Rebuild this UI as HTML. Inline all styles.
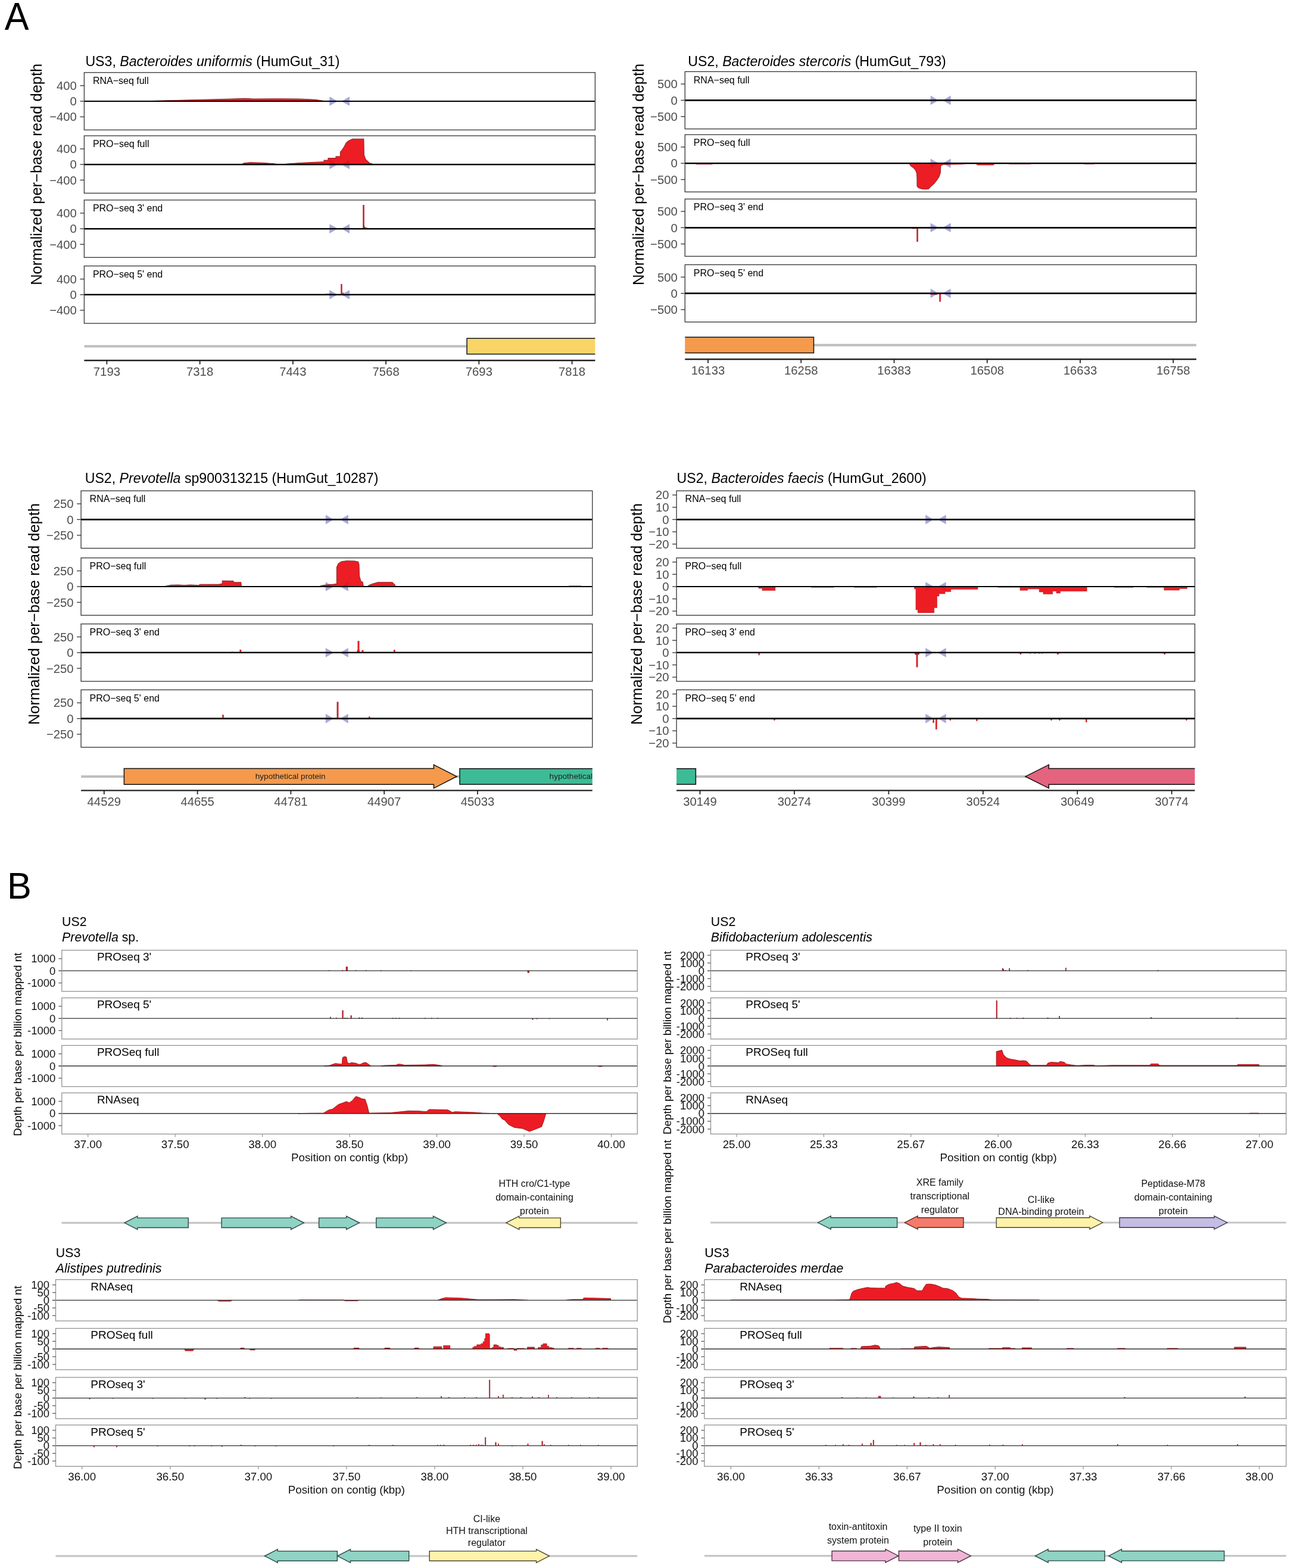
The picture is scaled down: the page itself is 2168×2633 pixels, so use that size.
<!DOCTYPE html>
<html><head><meta charset="utf-8"><title>Figure</title>
<style>html,body{margin:0;padding:0;background:#fff;}svg{display:block;}</style>
</head><body>
<svg width="2168" height="2633" viewBox="0 0 2168 2633" font-family='"Liberation Sans", Arial, Helvetica, sans-serif'>
<rect x="0" y="0" width="2168" height="2633" fill="#ffffff" stroke="none" stroke-width="1"/>
<text transform="translate(7.7,49.5) scale(1,1.048)" font-size="61.2" fill="#000">A</text>
<text transform="translate(12.1,1509) scale(1,1.043)" font-size="61.2" fill="#000">B</text>
<text x="143.4" y="111.1" font-size="23.15" fill="#000">US3, <tspan font-style="italic">Bacteroides uniformis</tspan> (HumGut_31)</text>
<text transform="translate(69.7,292.8) rotate(-90)" font-size="25.5" fill="#000" text-anchor="middle">Normalized per−base read depth</text>
<clipPath id="clipa10"><rect x="141.4" y="121.8" width="858" height="96.4"/></clipPath>
<line x1="141.4" y1="170" x2="999.4" y2="170" stroke="#000" stroke-width="2.2"/>
<polygon points="553.3,162.2 567.1,170 553.3,177.8" fill="#7070bc" stroke="none" stroke-width="1" fill-opacity="0.62"/>
<polygon points="587,162.2 573.2,170 587,177.8" fill="#7070bc" stroke="none" stroke-width="1" fill-opacity="0.62"/>
<g clip-path="url(#clipa10)" opacity="0.9">
<polygon points="241.5,170 241.5,170 280,168.8 330,167.5 380,166.4 412,165.3 425,166.1 470,165.8 500,166 530,167.2 545,169.7 545,170" fill="#eb050d" stroke="#8c1216" stroke-width="1.1"/>
</g>
<line x1="141.4" y1="170" x2="999.4" y2="170" stroke="#000" stroke-width="2.2"/>
<rect x="141.4" y="121.8" width="858" height="96.4" fill="none" stroke="#333333" stroke-width="1.3"/>
<text x="155.9" y="141" font-size="16" fill="#000" text-anchor="start">RNA−seq full</text>
<line x1="134.4" y1="143.8" x2="141.4" y2="143.8" stroke="#333333" stroke-width="1.3"/>
<text x="128.9" y="151" font-size="20.3" fill="#4d4d4d" text-anchor="end">400</text>
<line x1="134.4" y1="170" x2="141.4" y2="170" stroke="#333333" stroke-width="1.3"/>
<text x="128.9" y="177.2" font-size="20.3" fill="#4d4d4d" text-anchor="end">0</text>
<line x1="134.4" y1="196.2" x2="141.4" y2="196.2" stroke="#333333" stroke-width="1.3"/>
<text x="128.9" y="203.4" font-size="20.3" fill="#4d4d4d" text-anchor="end">−400</text>
<clipPath id="clipa11"><rect x="141.4" y="228" width="858" height="96.4"/></clipPath>
<line x1="141.4" y1="276.2" x2="999.4" y2="276.2" stroke="#000" stroke-width="2.2"/>
<polygon points="553.3,268.4 567.1,276.2 553.3,284" fill="#7070bc" stroke="none" stroke-width="1" fill-opacity="0.62"/>
<polygon points="587,268.4 573.2,276.2 587,284" fill="#7070bc" stroke="none" stroke-width="1" fill-opacity="0.62"/>
<g clip-path="url(#clipa11)" opacity="0.9">
<polygon points="405,276.2 405,276.2 410,273.7 420,272.7 440,273.2 460,274.7 466,275.7 480,275.2 500,273.7 520,272.7 540,271.9 544,271.9 544,269.1 551,269.1 551,265.6 564,265.6 564,262.7 571.4,262.7 571.4,255.2 574,252.4 578,246.2 581.5,239.7 585,236.8 591.8,233.3 610.9,233.3 611.4,260.4 614.3,267.9 620.6,273.7 627.6,276 627.6,276.2" fill="#eb050d" stroke="#8c1216" stroke-width="1.1"/>
</g>
<line x1="141.4" y1="276.2" x2="999.4" y2="276.2" stroke="#000" stroke-width="2.2"/>
<rect x="141.4" y="228" width="858" height="96.4" fill="none" stroke="#333333" stroke-width="1.3"/>
<text x="155.9" y="247.2" font-size="16" fill="#000" text-anchor="start">PRO−seq full</text>
<line x1="134.4" y1="250" x2="141.4" y2="250" stroke="#333333" stroke-width="1.3"/>
<text x="128.9" y="257.2" font-size="20.3" fill="#4d4d4d" text-anchor="end">400</text>
<line x1="134.4" y1="276.2" x2="141.4" y2="276.2" stroke="#333333" stroke-width="1.3"/>
<text x="128.9" y="283.4" font-size="20.3" fill="#4d4d4d" text-anchor="end">0</text>
<line x1="134.4" y1="302.4" x2="141.4" y2="302.4" stroke="#333333" stroke-width="1.3"/>
<text x="128.9" y="309.6" font-size="20.3" fill="#4d4d4d" text-anchor="end">−400</text>
<clipPath id="clipa12"><rect x="141.4" y="335.9" width="858" height="96.4"/></clipPath>
<line x1="141.4" y1="384.1" x2="999.4" y2="384.1" stroke="#000" stroke-width="2.2"/>
<polygon points="553.3,376.3 567.1,384.1 553.3,391.9" fill="#7070bc" stroke="none" stroke-width="1" fill-opacity="0.62"/>
<polygon points="587,376.3 573.2,384.1 587,391.9" fill="#7070bc" stroke="none" stroke-width="1" fill-opacity="0.62"/>
<g clip-path="url(#clipa12)" opacity="0.9">
<rect x="609.48" y="344.4" width="2.25" height="39.7" fill="#eb050d" stroke="#8a1216" stroke-width="0.5"/>
<polygon points="610.6,384.1 610.6,384.1 611,378.1 612.5,382.1 616,383.1 622,384.1 622,384.1" fill="#eb050d" stroke="#8c1216" stroke-width="1.1"/>
</g>
<line x1="141.4" y1="384.1" x2="999.4" y2="384.1" stroke="#000" stroke-width="2.2"/>
<rect x="141.4" y="335.9" width="858" height="96.4" fill="none" stroke="#333333" stroke-width="1.3"/>
<text x="155.9" y="355.1" font-size="16" fill="#000" text-anchor="start">PRO−seq 3' end</text>
<line x1="134.4" y1="357.9" x2="141.4" y2="357.9" stroke="#333333" stroke-width="1.3"/>
<text x="128.9" y="365.1" font-size="20.3" fill="#4d4d4d" text-anchor="end">400</text>
<line x1="134.4" y1="384.1" x2="141.4" y2="384.1" stroke="#333333" stroke-width="1.3"/>
<text x="128.9" y="391.3" font-size="20.3" fill="#4d4d4d" text-anchor="end">0</text>
<line x1="134.4" y1="410.3" x2="141.4" y2="410.3" stroke="#333333" stroke-width="1.3"/>
<text x="128.9" y="417.5" font-size="20.3" fill="#4d4d4d" text-anchor="end">−400</text>
<clipPath id="clipa13"><rect x="141.4" y="446.6" width="858" height="96.4"/></clipPath>
<line x1="141.4" y1="494.8" x2="999.4" y2="494.8" stroke="#000" stroke-width="2.2"/>
<polygon points="553.3,487 567.1,494.8 553.3,502.6" fill="#7070bc" stroke="none" stroke-width="1" fill-opacity="0.62"/>
<polygon points="587,487 573.2,494.8 587,502.6" fill="#7070bc" stroke="none" stroke-width="1" fill-opacity="0.62"/>
<g clip-path="url(#clipa13)" opacity="0.9">
<rect x="572.5" y="477.2" width="2" height="17.6" fill="#eb050d" stroke="#8a1216" stroke-width="0.5"/>
<polygon points="545,494.8 545,494.8 548,493.8 556,493.6 560,494.5 560,494.8" fill="#eb050d" stroke="#8c1216" stroke-width="1.1"/>
<rect x="575.12" y="491.8" width="1.75" height="3" fill="#eb050d" stroke="#8a1216" stroke-width="0.5"/>
</g>
<line x1="141.4" y1="494.8" x2="999.4" y2="494.8" stroke="#000" stroke-width="2.2"/>
<rect x="141.4" y="446.6" width="858" height="96.4" fill="none" stroke="#333333" stroke-width="1.3"/>
<text x="155.9" y="465.8" font-size="16" fill="#000" text-anchor="start">PRO−seq 5' end</text>
<line x1="134.4" y1="468.6" x2="141.4" y2="468.6" stroke="#333333" stroke-width="1.3"/>
<text x="128.9" y="475.8" font-size="20.3" fill="#4d4d4d" text-anchor="end">400</text>
<line x1="134.4" y1="494.8" x2="141.4" y2="494.8" stroke="#333333" stroke-width="1.3"/>
<text x="128.9" y="502" font-size="20.3" fill="#4d4d4d" text-anchor="end">0</text>
<line x1="134.4" y1="521" x2="141.4" y2="521" stroke="#333333" stroke-width="1.3"/>
<text x="128.9" y="528.2" font-size="20.3" fill="#4d4d4d" text-anchor="end">−400</text>
<clipPath id="gclipa1"><rect x="141.4" y="556.4" width="858" height="50"/></clipPath>
<g clip-path="url(#gclipa1)">
<line x1="141.4" y1="581.4" x2="999.4" y2="581.4" stroke="#bebebe" stroke-width="4"/>
<rect x="784.1" y="568.2" width="227.9" height="26.4" fill="#f9d567" stroke="#111" stroke-width="1.5"/>
</g>
<line x1="141.4" y1="605.3" x2="999.4" y2="605.3" stroke="#222" stroke-width="2.4"/>
<line x1="179.4" y1="605.3" x2="179.4" y2="611.8" stroke="#222" stroke-width="1.8"/>
<text x="179.4" y="631.3" font-size="20.3" fill="#4d4d4d" text-anchor="middle">7193</text>
<line x1="335.64" y1="605.3" x2="335.64" y2="611.8" stroke="#222" stroke-width="1.8"/>
<text x="335.64" y="631.3" font-size="20.3" fill="#4d4d4d" text-anchor="middle">7318</text>
<line x1="491.88" y1="605.3" x2="491.88" y2="611.8" stroke="#222" stroke-width="1.8"/>
<text x="491.88" y="631.3" font-size="20.3" fill="#4d4d4d" text-anchor="middle">7443</text>
<line x1="648.12" y1="605.3" x2="648.12" y2="611.8" stroke="#222" stroke-width="1.8"/>
<text x="648.12" y="631.3" font-size="20.3" fill="#4d4d4d" text-anchor="middle">7568</text>
<line x1="804.36" y1="605.3" x2="804.36" y2="611.8" stroke="#222" stroke-width="1.8"/>
<text x="804.36" y="631.3" font-size="20.3" fill="#4d4d4d" text-anchor="middle">7693</text>
<line x1="960.6" y1="605.3" x2="960.6" y2="611.8" stroke="#222" stroke-width="1.8"/>
<text x="960.6" y="631.3" font-size="20.3" fill="#4d4d4d" text-anchor="middle">7818</text>
<text x="1155.3" y="110.6" font-size="23.15" fill="#000">US2, <tspan font-style="italic">Bacteroides stercoris</tspan> (HumGut_793)</text>
<text transform="translate(1081.3,292.9) rotate(-90)" font-size="25.5" fill="#000" text-anchor="middle">Normalized per−base read depth</text>
<clipPath id="clipa20"><rect x="1150.3" y="120.3" width="858.7" height="96.2"/></clipPath>
<line x1="1150.3" y1="168.4" x2="2009" y2="168.4" stroke="#000" stroke-width="2.2"/>
<polygon points="1562.6,160.6 1576.4,168.4 1562.6,176.2" fill="#7070bc" stroke="none" stroke-width="1" fill-opacity="0.62"/>
<polygon points="1596.6,160.6 1582.8,168.4 1596.6,176.2" fill="#7070bc" stroke="none" stroke-width="1" fill-opacity="0.62"/>
<g clip-path="url(#clipa20)" opacity="0.9">
</g>
<line x1="1150.3" y1="168.4" x2="2009" y2="168.4" stroke="#000" stroke-width="2.2"/>
<rect x="1150.3" y="120.3" width="858.7" height="96.2" fill="none" stroke="#333333" stroke-width="1.3"/>
<text x="1164.8" y="139.5" font-size="16" fill="#000" text-anchor="start">RNA−seq full</text>
<line x1="1143.3" y1="141.1" x2="1150.3" y2="141.1" stroke="#333333" stroke-width="1.3"/>
<text x="1137.8" y="148.3" font-size="20.3" fill="#4d4d4d" text-anchor="end">500</text>
<line x1="1143.3" y1="168.4" x2="1150.3" y2="168.4" stroke="#333333" stroke-width="1.3"/>
<text x="1137.8" y="175.6" font-size="20.3" fill="#4d4d4d" text-anchor="end">0</text>
<line x1="1143.3" y1="195.7" x2="1150.3" y2="195.7" stroke="#333333" stroke-width="1.3"/>
<text x="1137.8" y="202.9" font-size="20.3" fill="#4d4d4d" text-anchor="end">−500</text>
<clipPath id="clipa21"><rect x="1150.3" y="226.1" width="858.7" height="96.2"/></clipPath>
<line x1="1150.3" y1="274.2" x2="2009" y2="274.2" stroke="#000" stroke-width="2.2"/>
<polygon points="1562.6,266.4 1576.4,274.2 1562.6,282" fill="#7070bc" stroke="none" stroke-width="1" fill-opacity="0.62"/>
<polygon points="1596.6,266.4 1582.8,274.2 1596.6,282" fill="#7070bc" stroke="none" stroke-width="1" fill-opacity="0.62"/>
<g clip-path="url(#clipa21)" opacity="0.9">
<polygon points="1167,274.2 1167,274.2 1170,275.7 1195,275.7 1198,274.2 1198,274.2" fill="#eb050d" stroke="#8c1216" stroke-width="1.1"/>
<polygon points="1527.2,274.2 1527.2,274.2 1527.2,275 1529.5,278.7 1534,281.7 1537.7,286.2 1539.6,291.5 1540,301.2 1540,312.4 1542.2,315.4 1547.4,317.3 1554.9,317.8 1559.4,317.3 1562.4,313.9 1568.4,308.7 1573.7,301.9 1577.4,295.9 1579.3,290 1579.6,282.5 1580,278 1584.9,276.1 1614.8,275.7 1622.3,274.7 1623,274.2 1623,274.2" fill="#eb050d" stroke="#8c1216" stroke-width="1.1"/>
<polygon points="1638,274.2 1638,274.2 1642,277 1668,277 1671,274.2 1671,274.2" fill="#eb050d" stroke="#8c1216" stroke-width="1.1"/>
<polygon points="1693,274.2 1693,274.2 1696,275.5 1730,275.5 1732,274.2 1732,274.2" fill="#eb050d" stroke="#8c1216" stroke-width="1.1"/>
<polygon points="1819,274.2 1819,274.2 1822,275.5 1836,275.5 1839,274.2 1839,274.2" fill="#eb050d" stroke="#8c1216" stroke-width="1.1"/>
</g>
<line x1="1150.3" y1="274.2" x2="2009" y2="274.2" stroke="#000" stroke-width="2.2"/>
<rect x="1150.3" y="226.1" width="858.7" height="96.2" fill="none" stroke="#333333" stroke-width="1.3"/>
<text x="1164.8" y="245.3" font-size="16" fill="#000" text-anchor="start">PRO−seq full</text>
<line x1="1143.3" y1="246.9" x2="1150.3" y2="246.9" stroke="#333333" stroke-width="1.3"/>
<text x="1137.8" y="254.1" font-size="20.3" fill="#4d4d4d" text-anchor="end">500</text>
<line x1="1143.3" y1="274.2" x2="1150.3" y2="274.2" stroke="#333333" stroke-width="1.3"/>
<text x="1137.8" y="281.4" font-size="20.3" fill="#4d4d4d" text-anchor="end">0</text>
<line x1="1143.3" y1="301.5" x2="1150.3" y2="301.5" stroke="#333333" stroke-width="1.3"/>
<text x="1137.8" y="308.7" font-size="20.3" fill="#4d4d4d" text-anchor="end">−500</text>
<clipPath id="clipa22"><rect x="1150.3" y="334.2" width="858.7" height="96.2"/></clipPath>
<line x1="1150.3" y1="382.3" x2="2009" y2="382.3" stroke="#000" stroke-width="2.2"/>
<polygon points="1562.6,374.5 1576.4,382.3 1562.6,390.1" fill="#7070bc" stroke="none" stroke-width="1" fill-opacity="0.62"/>
<polygon points="1596.6,374.5 1582.8,382.3 1596.6,390.1" fill="#7070bc" stroke="none" stroke-width="1" fill-opacity="0.62"/>
<g clip-path="url(#clipa22)" opacity="0.9">
<rect x="1539.47" y="382.3" width="2.25" height="23.5" fill="#eb050d" stroke="#8a1216" stroke-width="0.5"/>
<polygon points="1530,382.3 1530,382.3 1532,383.8 1538,383.8 1539,382.3 1539,382.3" fill="#eb050d" stroke="#8c1216" stroke-width="1.1"/>
</g>
<line x1="1150.3" y1="382.3" x2="2009" y2="382.3" stroke="#000" stroke-width="2.2"/>
<rect x="1150.3" y="334.2" width="858.7" height="96.2" fill="none" stroke="#333333" stroke-width="1.3"/>
<text x="1164.8" y="353.4" font-size="16" fill="#000" text-anchor="start">PRO−seq 3' end</text>
<line x1="1143.3" y1="355" x2="1150.3" y2="355" stroke="#333333" stroke-width="1.3"/>
<text x="1137.8" y="362.2" font-size="20.3" fill="#4d4d4d" text-anchor="end">500</text>
<line x1="1143.3" y1="382.3" x2="1150.3" y2="382.3" stroke="#333333" stroke-width="1.3"/>
<text x="1137.8" y="389.5" font-size="20.3" fill="#4d4d4d" text-anchor="end">0</text>
<line x1="1143.3" y1="409.6" x2="1150.3" y2="409.6" stroke="#333333" stroke-width="1.3"/>
<text x="1137.8" y="416.8" font-size="20.3" fill="#4d4d4d" text-anchor="end">−500</text>
<clipPath id="clipa23"><rect x="1150.3" y="444.5" width="858.7" height="96.2"/></clipPath>
<line x1="1150.3" y1="492.6" x2="2009" y2="492.6" stroke="#000" stroke-width="2.2"/>
<polygon points="1562.6,484.8 1576.4,492.6 1562.6,500.4" fill="#7070bc" stroke="none" stroke-width="1" fill-opacity="0.62"/>
<polygon points="1596.6,484.8 1582.8,492.6 1596.6,500.4" fill="#7070bc" stroke="none" stroke-width="1" fill-opacity="0.62"/>
<g clip-path="url(#clipa23)" opacity="0.9">
<rect x="1577.58" y="492.6" width="2.25" height="13.6" fill="#eb050d" stroke="#8a1216" stroke-width="0.5"/>
<polygon points="1560,492.6 1560,492.6 1563,494.1 1574,494.1 1576,492.6 1576,492.6" fill="#eb050d" stroke="#8c1216" stroke-width="1.1"/>
<rect x="1668.12" y="492.6" width="1.75" height="1.2" fill="#eb050d" stroke="#8a1216" stroke-width="0.5"/>
</g>
<line x1="1150.3" y1="492.6" x2="2009" y2="492.6" stroke="#000" stroke-width="2.2"/>
<rect x="1150.3" y="444.5" width="858.7" height="96.2" fill="none" stroke="#333333" stroke-width="1.3"/>
<text x="1164.8" y="463.7" font-size="16" fill="#000" text-anchor="start">PRO−seq 5' end</text>
<line x1="1143.3" y1="465.3" x2="1150.3" y2="465.3" stroke="#333333" stroke-width="1.3"/>
<text x="1137.8" y="472.5" font-size="20.3" fill="#4d4d4d" text-anchor="end">500</text>
<line x1="1143.3" y1="492.6" x2="1150.3" y2="492.6" stroke="#333333" stroke-width="1.3"/>
<text x="1137.8" y="499.8" font-size="20.3" fill="#4d4d4d" text-anchor="end">0</text>
<line x1="1143.3" y1="519.9" x2="1150.3" y2="519.9" stroke="#333333" stroke-width="1.3"/>
<text x="1137.8" y="527.1" font-size="20.3" fill="#4d4d4d" text-anchor="end">−500</text>
<clipPath id="gclipa2"><rect x="1150.3" y="554.4" width="858.7" height="50"/></clipPath>
<g clip-path="url(#gclipa2)">
<line x1="1150.3" y1="579.4" x2="2009" y2="579.4" stroke="#bebebe" stroke-width="4"/>
<rect x="1140" y="566.2" width="226.5" height="26.4" fill="#f59a4c" stroke="#111" stroke-width="1.5"/>
</g>
<line x1="1150.3" y1="603.2" x2="2009" y2="603.2" stroke="#222" stroke-width="2.4"/>
<line x1="1189" y1="603.2" x2="1189" y2="609.7" stroke="#222" stroke-width="1.8"/>
<text x="1189" y="629.2" font-size="20.3" fill="#4d4d4d" text-anchor="middle">16133</text>
<line x1="1345.25" y1="603.2" x2="1345.25" y2="609.7" stroke="#222" stroke-width="1.8"/>
<text x="1345.25" y="629.2" font-size="20.3" fill="#4d4d4d" text-anchor="middle">16258</text>
<line x1="1501.5" y1="603.2" x2="1501.5" y2="609.7" stroke="#222" stroke-width="1.8"/>
<text x="1501.5" y="629.2" font-size="20.3" fill="#4d4d4d" text-anchor="middle">16383</text>
<line x1="1657.75" y1="603.2" x2="1657.75" y2="609.7" stroke="#222" stroke-width="1.8"/>
<text x="1657.75" y="629.2" font-size="20.3" fill="#4d4d4d" text-anchor="middle">16508</text>
<line x1="1814" y1="603.2" x2="1814" y2="609.7" stroke="#222" stroke-width="1.8"/>
<text x="1814" y="629.2" font-size="20.3" fill="#4d4d4d" text-anchor="middle">16633</text>
<line x1="1970.25" y1="603.2" x2="1970.25" y2="609.7" stroke="#222" stroke-width="1.8"/>
<text x="1970.25" y="629.2" font-size="20.3" fill="#4d4d4d" text-anchor="middle">16758</text>
<text x="142.7" y="811" font-size="23.15" fill="#000">US2, <tspan font-style="italic">Prevotella</tspan> sp900313215 (HumGut_10287)</text>
<text transform="translate(66,1031) rotate(-90)" font-size="25.5" fill="#000" text-anchor="middle">Normalized per−base read depth</text>
<clipPath id="clipa30"><rect x="136.1" y="824.2" width="858.7" height="96.4"/></clipPath>
<line x1="136.1" y1="872.4" x2="994.8" y2="872.4" stroke="#000" stroke-width="2.2"/>
<polygon points="546.8,864.6 560.6,872.4 546.8,880.2" fill="#7070bc" stroke="none" stroke-width="1" fill-opacity="0.62"/>
<polygon points="584.8,864.6 571,872.4 584.8,880.2" fill="#7070bc" stroke="none" stroke-width="1" fill-opacity="0.62"/>
<g clip-path="url(#clipa30)" opacity="0.9">
</g>
<line x1="136.1" y1="872.4" x2="994.8" y2="872.4" stroke="#000" stroke-width="2.2"/>
<rect x="136.1" y="824.2" width="858.7" height="96.4" fill="none" stroke="#333333" stroke-width="1.3"/>
<text x="150.6" y="843.4" font-size="16" fill="#000" text-anchor="start">RNA−seq full</text>
<line x1="129.1" y1="846" x2="136.1" y2="846" stroke="#333333" stroke-width="1.3"/>
<text x="123.6" y="853.2" font-size="20.3" fill="#4d4d4d" text-anchor="end">250</text>
<line x1="129.1" y1="872.4" x2="136.1" y2="872.4" stroke="#333333" stroke-width="1.3"/>
<text x="123.6" y="879.6" font-size="20.3" fill="#4d4d4d" text-anchor="end">0</text>
<line x1="129.1" y1="898.8" x2="136.1" y2="898.8" stroke="#333333" stroke-width="1.3"/>
<text x="123.6" y="906" font-size="20.3" fill="#4d4d4d" text-anchor="end">−250</text>
<clipPath id="clipa31"><rect x="136.1" y="936.8" width="858.7" height="96.4"/></clipPath>
<line x1="136.1" y1="985" x2="994.8" y2="985" stroke="#000" stroke-width="2.2"/>
<polygon points="546.8,977.2 560.6,985 546.8,992.8" fill="#7070bc" stroke="none" stroke-width="1" fill-opacity="0.62"/>
<polygon points="584.8,977.2 571,985 584.8,992.8" fill="#7070bc" stroke="none" stroke-width="1" fill-opacity="0.62"/>
<g clip-path="url(#clipa31)" opacity="0.9">
<polygon points="276,985 276,985 279,984 287.6,982.3 299.6,982 309.8,982.7 319,982.1 334,982.8 335.6,981.3 367.8,981.1 373,980.4 373.3,975.3 391.8,975.6 392.6,977.9 404.7,977.9 405.5,985 405.5,985" fill="#eb050d" stroke="#8c1216" stroke-width="1.1"/>
<polygon points="536,985 536,985 539.5,983.3 546.4,982.4 560.2,981.1 565.4,980.2 565.4,952.6 568,946.5 573.2,943.1 581.9,941.8 595.7,942 601.7,943.5 603,948.3 603.5,967.3 606.1,975.9 609.1,977.7 610.4,984.6 611,985 611,985" fill="#eb050d" stroke="#8c1216" stroke-width="1.1"/>
<polygon points="617,985 617,985 619.9,982.4 625.9,980.2 634.6,977.7 658.8,977.7 663.1,982 664,985 664,985" fill="#eb050d" stroke="#8c1216" stroke-width="1.1"/>
<polygon points="954,985 954,985 956,984 975,984 977,985 977,985" fill="#eb050d" stroke="#8c1216" stroke-width="1.1"/>
</g>
<line x1="136.1" y1="985" x2="994.8" y2="985" stroke="#000" stroke-width="2.2"/>
<rect x="136.1" y="936.8" width="858.7" height="96.4" fill="none" stroke="#333333" stroke-width="1.3"/>
<text x="150.6" y="956" font-size="16" fill="#000" text-anchor="start">PRO−seq full</text>
<line x1="129.1" y1="958.6" x2="136.1" y2="958.6" stroke="#333333" stroke-width="1.3"/>
<text x="123.6" y="965.8" font-size="20.3" fill="#4d4d4d" text-anchor="end">250</text>
<line x1="129.1" y1="985" x2="136.1" y2="985" stroke="#333333" stroke-width="1.3"/>
<text x="123.6" y="992.2" font-size="20.3" fill="#4d4d4d" text-anchor="end">0</text>
<line x1="129.1" y1="1011.4" x2="136.1" y2="1011.4" stroke="#333333" stroke-width="1.3"/>
<text x="123.6" y="1018.6" font-size="20.3" fill="#4d4d4d" text-anchor="end">−250</text>
<clipPath id="clipa32"><rect x="136.1" y="1047.7" width="858.7" height="96.4"/></clipPath>
<line x1="136.1" y1="1095.9" x2="994.8" y2="1095.9" stroke="#000" stroke-width="2.2"/>
<polygon points="546.8,1088.1 560.6,1095.9 546.8,1103.7" fill="#7070bc" stroke="none" stroke-width="1" fill-opacity="0.62"/>
<polygon points="584.8,1088.1 571,1095.9 584.8,1103.7" fill="#7070bc" stroke="none" stroke-width="1" fill-opacity="0.62"/>
<g clip-path="url(#clipa32)" opacity="0.9">
<rect x="389.12" y="1094.7" width="1.75" height="1.2" fill="#eb050d" stroke="#8a1216" stroke-width="0.5"/>
<rect x="402.77" y="1091.1" width="2.25" height="4.8" fill="#eb050d" stroke="#8a1216" stroke-width="0.5"/>
<polygon points="599.5,1095.9 599.5,1095.9 600.5,1091.9 603,1091.9 604,1095.9 604,1095.9" fill="#eb050d" stroke="#8c1216" stroke-width="1.1"/>
<rect x="600.88" y="1076.6" width="2.25" height="19.3" fill="#eb050d" stroke="#8a1216" stroke-width="0.5"/>
<rect x="607.88" y="1091.9" width="2.25" height="4" fill="#eb050d" stroke="#8a1216" stroke-width="0.5"/>
<rect x="661.17" y="1091.4" width="2.25" height="4.5" fill="#eb050d" stroke="#8a1216" stroke-width="0.5"/>
</g>
<line x1="136.1" y1="1095.9" x2="994.8" y2="1095.9" stroke="#000" stroke-width="2.2"/>
<rect x="136.1" y="1047.7" width="858.7" height="96.4" fill="none" stroke="#333333" stroke-width="1.3"/>
<text x="150.6" y="1066.9" font-size="16" fill="#000" text-anchor="start">PRO−seq 3' end</text>
<line x1="129.1" y1="1069.5" x2="136.1" y2="1069.5" stroke="#333333" stroke-width="1.3"/>
<text x="123.6" y="1076.7" font-size="20.3" fill="#4d4d4d" text-anchor="end">250</text>
<line x1="129.1" y1="1095.9" x2="136.1" y2="1095.9" stroke="#333333" stroke-width="1.3"/>
<text x="123.6" y="1103.1" font-size="20.3" fill="#4d4d4d" text-anchor="end">0</text>
<line x1="129.1" y1="1122.3" x2="136.1" y2="1122.3" stroke="#333333" stroke-width="1.3"/>
<text x="123.6" y="1129.5" font-size="20.3" fill="#4d4d4d" text-anchor="end">−250</text>
<clipPath id="clipa33"><rect x="136.1" y="1158.4" width="858.7" height="96.4"/></clipPath>
<line x1="136.1" y1="1206.6" x2="994.8" y2="1206.6" stroke="#000" stroke-width="2.2"/>
<polygon points="546.8,1198.8 560.6,1206.6 546.8,1214.4" fill="#7070bc" stroke="none" stroke-width="1" fill-opacity="0.62"/>
<polygon points="584.8,1198.8 571,1206.6 584.8,1214.4" fill="#7070bc" stroke="none" stroke-width="1" fill-opacity="0.62"/>
<g clip-path="url(#clipa33)" opacity="0.9">
<rect x="373.38" y="1200.4" width="2.25" height="6.2" fill="#eb050d" stroke="#8a1216" stroke-width="0.5"/>
<rect x="539.12" y="1205.6" width="1.75" height="1" fill="#eb050d" stroke="#8a1216" stroke-width="0.5"/>
<rect x="565.88" y="1178.8" width="2.25" height="27.8" fill="#eb050d" stroke="#8a1216" stroke-width="0.5"/>
<rect x="619.17" y="1203.6" width="2.25" height="3" fill="#eb050d" stroke="#8a1216" stroke-width="0.5"/>
<rect x="627.12" y="1205.4" width="1.75" height="1.2" fill="#eb050d" stroke="#8a1216" stroke-width="0.5"/>
</g>
<line x1="136.1" y1="1206.6" x2="994.8" y2="1206.6" stroke="#000" stroke-width="2.2"/>
<rect x="136.1" y="1158.4" width="858.7" height="96.4" fill="none" stroke="#333333" stroke-width="1.3"/>
<text x="150.6" y="1177.6" font-size="16" fill="#000" text-anchor="start">PRO−seq 5' end</text>
<line x1="129.1" y1="1180.2" x2="136.1" y2="1180.2" stroke="#333333" stroke-width="1.3"/>
<text x="123.6" y="1187.4" font-size="20.3" fill="#4d4d4d" text-anchor="end">250</text>
<line x1="129.1" y1="1206.6" x2="136.1" y2="1206.6" stroke="#333333" stroke-width="1.3"/>
<text x="123.6" y="1213.8" font-size="20.3" fill="#4d4d4d" text-anchor="end">0</text>
<line x1="129.1" y1="1233" x2="136.1" y2="1233" stroke="#333333" stroke-width="1.3"/>
<text x="123.6" y="1240.2" font-size="20.3" fill="#4d4d4d" text-anchor="end">−250</text>
<clipPath id="gclipa3"><rect x="136.1" y="1278.9" width="858.7" height="50"/></clipPath>
<g clip-path="url(#gclipa3)">
<line x1="136.1" y1="1303.9" x2="994.8" y2="1303.9" stroke="#bebebe" stroke-width="4"/>
<polygon points="208.4,1290.5 728.4,1290.5 728.4,1284.2 767,1303.9 728.4,1323.6 728.4,1317.3 208.4,1317.3" fill="#f59a4c" stroke="#111" stroke-width="1.5"/>
<text x="487.7" y="1308.2" font-size="13.6" fill="#222" text-anchor="middle">hypothetical protein</text>
<rect x="772" y="1290.7" width="238" height="26.4" fill="#3dbb96" stroke="#111" stroke-width="1.5"/>
<text x="922.6" y="1308.2" font-size="13.6" fill="#222" text-anchor="start">hypothetical protein</text>
</g>
<line x1="136.1" y1="1327.4" x2="994.8" y2="1327.4" stroke="#222" stroke-width="2.4"/>
<line x1="174.8" y1="1327.4" x2="174.8" y2="1333.9" stroke="#222" stroke-width="1.8"/>
<text x="174.8" y="1353.4" font-size="20.3" fill="#4d4d4d" text-anchor="middle">44529</text>
<line x1="331.6" y1="1327.4" x2="331.6" y2="1333.9" stroke="#222" stroke-width="1.8"/>
<text x="331.6" y="1353.4" font-size="20.3" fill="#4d4d4d" text-anchor="middle">44655</text>
<line x1="488.4" y1="1327.4" x2="488.4" y2="1333.9" stroke="#222" stroke-width="1.8"/>
<text x="488.4" y="1353.4" font-size="20.3" fill="#4d4d4d" text-anchor="middle">44781</text>
<line x1="645.2" y1="1327.4" x2="645.2" y2="1333.9" stroke="#222" stroke-width="1.8"/>
<text x="645.2" y="1353.4" font-size="20.3" fill="#4d4d4d" text-anchor="middle">44907</text>
<line x1="802" y1="1327.4" x2="802" y2="1333.9" stroke="#222" stroke-width="1.8"/>
<text x="802" y="1353.4" font-size="20.3" fill="#4d4d4d" text-anchor="middle">45033</text>
<text x="1136.5" y="811" font-size="23.15" fill="#000">US2, <tspan font-style="italic">Bacteroides faecis</tspan> (HumGut_2600)</text>
<text transform="translate(1078,1031) rotate(-90)" font-size="25.5" fill="#000" text-anchor="middle">Normalized per−base read depth</text>
<clipPath id="clipa40"><rect x="1136.1" y="824.2" width="870.4" height="96.4"/></clipPath>
<line x1="1136.1" y1="872.4" x2="2006.5" y2="872.4" stroke="#000" stroke-width="2.2"/>
<polygon points="1554.2,864.6 1568,872.4 1554.2,880.2" fill="#7070bc" stroke="none" stroke-width="1" fill-opacity="0.62"/>
<polygon points="1588.7,864.6 1574.9,872.4 1588.7,880.2" fill="#7070bc" stroke="none" stroke-width="1" fill-opacity="0.62"/>
<g clip-path="url(#clipa40)" opacity="0.9">
</g>
<line x1="1136.1" y1="872.4" x2="2006.5" y2="872.4" stroke="#000" stroke-width="2.2"/>
<rect x="1136.1" y="824.2" width="870.4" height="96.4" fill="none" stroke="#333333" stroke-width="1.3"/>
<text x="1150.6" y="843.4" font-size="16" fill="#000" text-anchor="start">RNA−seq full</text>
<line x1="1129.1" y1="831.2" x2="1136.1" y2="831.2" stroke="#333333" stroke-width="1.3"/>
<text x="1123.6" y="838.4" font-size="20.3" fill="#4d4d4d" text-anchor="end">20</text>
<line x1="1129.1" y1="851.8" x2="1136.1" y2="851.8" stroke="#333333" stroke-width="1.3"/>
<text x="1123.6" y="859" font-size="20.3" fill="#4d4d4d" text-anchor="end">10</text>
<line x1="1129.1" y1="872.4" x2="1136.1" y2="872.4" stroke="#333333" stroke-width="1.3"/>
<text x="1123.6" y="879.6" font-size="20.3" fill="#4d4d4d" text-anchor="end">0</text>
<line x1="1129.1" y1="893" x2="1136.1" y2="893" stroke="#333333" stroke-width="1.3"/>
<text x="1123.6" y="900.2" font-size="20.3" fill="#4d4d4d" text-anchor="end">−10</text>
<line x1="1129.1" y1="913.6" x2="1136.1" y2="913.6" stroke="#333333" stroke-width="1.3"/>
<text x="1123.6" y="920.8" font-size="20.3" fill="#4d4d4d" text-anchor="end">−20</text>
<clipPath id="clipa41"><rect x="1136.1" y="936.8" width="870.4" height="96.4"/></clipPath>
<line x1="1136.1" y1="985" x2="2006.5" y2="985" stroke="#000" stroke-width="2.2"/>
<polygon points="1554.2,977.2 1568,985 1554.2,992.8" fill="#7070bc" stroke="none" stroke-width="1" fill-opacity="0.62"/>
<polygon points="1588.7,977.2 1574.9,985 1588.7,992.8" fill="#7070bc" stroke="none" stroke-width="1" fill-opacity="0.62"/>
<g clip-path="url(#clipa41)" opacity="0.9">
<polygon points="1273.9,985 1273.9,988 1280,988 1280,991.5 1301.9,991.5 1301.9,985" fill="#eb050d" stroke="#8c1216" stroke-width="0.6"/>
<polygon points="1362.6,985 1362.6,986.3 1399.7,986.3 1399.7,985" fill="#eb050d" stroke="#8c1216" stroke-width="0.6"/>
<polygon points="1435,985 1435,986.3 1472,986.3 1472,985" fill="#eb050d" stroke="#8c1216" stroke-width="0.6"/>
<polygon points="1535.5,985 1535.5,989 1538,989 1538,1024 1541.3,1024 1541.3,1028.9 1568.7,1028.9 1568.7,1020.6 1573.5,1020.6 1573.5,1001 1577,1001 1577,997 1587,997 1587,993.6 1596.8,993.6 1596.8,989.5 1642,989.5 1642,985" fill="#eb050d" stroke="#8c1216" stroke-width="0.6"/>
<polygon points="1675.8,985 1675.8,986.2 1713,986.2 1713,991.3 1725.8,991.3 1725.8,989 1745.2,989 1745.2,994 1752,994 1752,997.6 1767.7,997.6 1767.7,992.7 1774,992.7 1774,996 1780.6,996 1780.6,992.7 1825.2,992.7 1825.2,985" fill="#eb050d" stroke="#8c1216" stroke-width="0.6"/>
<polygon points="1871,985 1871,986.3 1903,986.3 1903,985" fill="#eb050d" stroke="#8c1216" stroke-width="0.6"/>
<polygon points="1925.8,985 1925.8,986.3 1954.8,986.3 1954.8,991 1980.6,991 1980.6,988.5 1993.5,988.5 1993.5,985" fill="#eb050d" stroke="#8c1216" stroke-width="0.6"/>
</g>
<line x1="1136.1" y1="985" x2="2006.5" y2="985" stroke="#000" stroke-width="2.2"/>
<rect x="1136.1" y="936.8" width="870.4" height="96.4" fill="none" stroke="#333333" stroke-width="1.3"/>
<text x="1150.6" y="956" font-size="16" fill="#000" text-anchor="start">PRO−seq full</text>
<line x1="1129.1" y1="943.8" x2="1136.1" y2="943.8" stroke="#333333" stroke-width="1.3"/>
<text x="1123.6" y="951" font-size="20.3" fill="#4d4d4d" text-anchor="end">20</text>
<line x1="1129.1" y1="964.4" x2="1136.1" y2="964.4" stroke="#333333" stroke-width="1.3"/>
<text x="1123.6" y="971.6" font-size="20.3" fill="#4d4d4d" text-anchor="end">10</text>
<line x1="1129.1" y1="985" x2="1136.1" y2="985" stroke="#333333" stroke-width="1.3"/>
<text x="1123.6" y="992.2" font-size="20.3" fill="#4d4d4d" text-anchor="end">0</text>
<line x1="1129.1" y1="1005.6" x2="1136.1" y2="1005.6" stroke="#333333" stroke-width="1.3"/>
<text x="1123.6" y="1012.8" font-size="20.3" fill="#4d4d4d" text-anchor="end">−10</text>
<line x1="1129.1" y1="1026.2" x2="1136.1" y2="1026.2" stroke="#333333" stroke-width="1.3"/>
<text x="1123.6" y="1033.4" font-size="20.3" fill="#4d4d4d" text-anchor="end">−20</text>
<clipPath id="clipa42"><rect x="1136.1" y="1047.7" width="870.4" height="96.4"/></clipPath>
<line x1="1136.1" y1="1095.9" x2="2006.5" y2="1095.9" stroke="#000" stroke-width="2.2"/>
<polygon points="1554.2,1088.1 1568,1095.9 1554.2,1103.7" fill="#7070bc" stroke="none" stroke-width="1" fill-opacity="0.62"/>
<polygon points="1588.7,1088.1 1574.9,1095.9 1588.7,1103.7" fill="#7070bc" stroke="none" stroke-width="1" fill-opacity="0.62"/>
<g clip-path="url(#clipa42)" opacity="0.9">
<rect x="1273.8" y="1095.9" width="2" height="4" fill="#eb050d" stroke="#8a1216" stroke-width="0.5"/>
<rect x="1538.88" y="1095.9" width="2.25" height="24.2" fill="#eb050d" stroke="#8a1216" stroke-width="0.5"/>
<polygon points="1536,1095.9 1536,1095.9 1537,1098.9 1543,1098.9 1544,1095.9 1544,1095.9" fill="#eb050d" stroke="#8c1216" stroke-width="1.1"/>
<rect x="1712.9" y="1095.9" width="2" height="3" fill="#eb050d" stroke="#8a1216" stroke-width="0.5"/>
<rect x="1775.5" y="1095.9" width="2" height="3" fill="#eb050d" stroke="#8a1216" stroke-width="0.5"/>
<rect x="1954.8" y="1095.9" width="2" height="3" fill="#eb050d" stroke="#8a1216" stroke-width="0.5"/>
<rect x="1729.12" y="1095.9" width="1.75" height="1.3" fill="#eb050d" stroke="#8a1216" stroke-width="0.5"/>
<rect x="1737.12" y="1095.9" width="1.75" height="1.3" fill="#eb050d" stroke="#8a1216" stroke-width="0.5"/>
<rect x="1744.12" y="1095.9" width="1.75" height="1.3" fill="#eb050d" stroke="#8a1216" stroke-width="0.5"/>
<rect x="1749.12" y="1095.9" width="1.75" height="1.3" fill="#eb050d" stroke="#8a1216" stroke-width="0.5"/>
</g>
<line x1="1136.1" y1="1095.9" x2="2006.5" y2="1095.9" stroke="#000" stroke-width="2.2"/>
<rect x="1136.1" y="1047.7" width="870.4" height="96.4" fill="none" stroke="#333333" stroke-width="1.3"/>
<text x="1150.6" y="1066.9" font-size="16" fill="#000" text-anchor="start">PRO−seq 3' end</text>
<line x1="1129.1" y1="1054.7" x2="1136.1" y2="1054.7" stroke="#333333" stroke-width="1.3"/>
<text x="1123.6" y="1061.9" font-size="20.3" fill="#4d4d4d" text-anchor="end">20</text>
<line x1="1129.1" y1="1075.3" x2="1136.1" y2="1075.3" stroke="#333333" stroke-width="1.3"/>
<text x="1123.6" y="1082.5" font-size="20.3" fill="#4d4d4d" text-anchor="end">10</text>
<line x1="1129.1" y1="1095.9" x2="1136.1" y2="1095.9" stroke="#333333" stroke-width="1.3"/>
<text x="1123.6" y="1103.1" font-size="20.3" fill="#4d4d4d" text-anchor="end">0</text>
<line x1="1129.1" y1="1116.5" x2="1136.1" y2="1116.5" stroke="#333333" stroke-width="1.3"/>
<text x="1123.6" y="1123.7" font-size="20.3" fill="#4d4d4d" text-anchor="end">−10</text>
<line x1="1129.1" y1="1137.1" x2="1136.1" y2="1137.1" stroke="#333333" stroke-width="1.3"/>
<text x="1123.6" y="1144.3" font-size="20.3" fill="#4d4d4d" text-anchor="end">−20</text>
<clipPath id="clipa43"><rect x="1136.1" y="1158.4" width="870.4" height="96.4"/></clipPath>
<line x1="1136.1" y1="1206.6" x2="2006.5" y2="1206.6" stroke="#000" stroke-width="2.2"/>
<polygon points="1554.2,1198.8 1568,1206.6 1554.2,1214.4" fill="#7070bc" stroke="none" stroke-width="1" fill-opacity="0.62"/>
<polygon points="1588.7,1198.8 1574.9,1206.6 1588.7,1214.4" fill="#7070bc" stroke="none" stroke-width="1" fill-opacity="0.62"/>
<g clip-path="url(#clipa43)" opacity="0.9">
<rect x="1299.6" y="1206.6" width="2" height="3" fill="#eb050d" stroke="#8a1216" stroke-width="0.5"/>
<rect x="1566.7" y="1206.6" width="2" height="7" fill="#eb050d" stroke="#8a1216" stroke-width="0.5"/>
<rect x="1571.17" y="1206.6" width="2.25" height="18" fill="#eb050d" stroke="#8a1216" stroke-width="0.5"/>
<rect x="1594.8" y="1206.6" width="2" height="3" fill="#eb050d" stroke="#8a1216" stroke-width="0.5"/>
<rect x="1639.3" y="1206.6" width="2" height="4" fill="#eb050d" stroke="#8a1216" stroke-width="0.5"/>
<rect x="1764.5" y="1206.6" width="2" height="3" fill="#eb050d" stroke="#8a1216" stroke-width="0.5"/>
<rect x="1778.4" y="1206.6" width="2" height="3" fill="#eb050d" stroke="#8a1216" stroke-width="0.5"/>
<rect x="1823.2" y="1206.6" width="2" height="6" fill="#eb050d" stroke="#8a1216" stroke-width="0.5"/>
<rect x="1991.6" y="1206.6" width="2" height="3" fill="#eb050d" stroke="#8a1216" stroke-width="0.5"/>
</g>
<line x1="1136.1" y1="1206.6" x2="2006.5" y2="1206.6" stroke="#000" stroke-width="2.2"/>
<rect x="1136.1" y="1158.4" width="870.4" height="96.4" fill="none" stroke="#333333" stroke-width="1.3"/>
<text x="1150.6" y="1177.6" font-size="16" fill="#000" text-anchor="start">PRO−seq 5' end</text>
<line x1="1129.1" y1="1165.4" x2="1136.1" y2="1165.4" stroke="#333333" stroke-width="1.3"/>
<text x="1123.6" y="1172.6" font-size="20.3" fill="#4d4d4d" text-anchor="end">20</text>
<line x1="1129.1" y1="1186" x2="1136.1" y2="1186" stroke="#333333" stroke-width="1.3"/>
<text x="1123.6" y="1193.2" font-size="20.3" fill="#4d4d4d" text-anchor="end">10</text>
<line x1="1129.1" y1="1206.6" x2="1136.1" y2="1206.6" stroke="#333333" stroke-width="1.3"/>
<text x="1123.6" y="1213.8" font-size="20.3" fill="#4d4d4d" text-anchor="end">0</text>
<line x1="1129.1" y1="1227.2" x2="1136.1" y2="1227.2" stroke="#333333" stroke-width="1.3"/>
<text x="1123.6" y="1234.4" font-size="20.3" fill="#4d4d4d" text-anchor="end">−10</text>
<line x1="1129.1" y1="1247.8" x2="1136.1" y2="1247.8" stroke="#333333" stroke-width="1.3"/>
<text x="1123.6" y="1255" font-size="20.3" fill="#4d4d4d" text-anchor="end">−20</text>
<clipPath id="gclipa4"><rect x="1136.1" y="1278.9" width="870.4" height="50"/></clipPath>
<g clip-path="url(#gclipa4)">
<line x1="1136.1" y1="1303.9" x2="2006.5" y2="1303.9" stroke="#bebebe" stroke-width="4"/>
<rect x="1120" y="1290.7" width="48.4" height="26.4" fill="#3dbb96" stroke="#111" stroke-width="1.5"/>
<polygon points="2020,1290.5 1761.3,1290.5 1761.3,1284.2 1722,1303.9 1761.3,1323.6 1761.3,1317.3 2020,1317.3" fill="#e4637f" stroke="#111" stroke-width="1.5"/>
</g>
<line x1="1136.1" y1="1327.4" x2="2006.5" y2="1327.4" stroke="#222" stroke-width="2.4"/>
<line x1="1175.5" y1="1327.4" x2="1175.5" y2="1333.9" stroke="#222" stroke-width="1.8"/>
<text x="1175.5" y="1353.4" font-size="20.3" fill="#4d4d4d" text-anchor="middle">30149</text>
<line x1="1333.94" y1="1327.4" x2="1333.94" y2="1333.9" stroke="#222" stroke-width="1.8"/>
<text x="1333.94" y="1353.4" font-size="20.3" fill="#4d4d4d" text-anchor="middle">30274</text>
<line x1="1492.38" y1="1327.4" x2="1492.38" y2="1333.9" stroke="#222" stroke-width="1.8"/>
<text x="1492.38" y="1353.4" font-size="20.3" fill="#4d4d4d" text-anchor="middle">30399</text>
<line x1="1650.82" y1="1327.4" x2="1650.82" y2="1333.9" stroke="#222" stroke-width="1.8"/>
<text x="1650.82" y="1353.4" font-size="20.3" fill="#4d4d4d" text-anchor="middle">30524</text>
<line x1="1809.26" y1="1327.4" x2="1809.26" y2="1333.9" stroke="#222" stroke-width="1.8"/>
<text x="1809.26" y="1353.4" font-size="20.3" fill="#4d4d4d" text-anchor="middle">30649</text>
<line x1="1967.7" y1="1327.4" x2="1967.7" y2="1333.9" stroke="#222" stroke-width="1.8"/>
<text x="1967.7" y="1353.4" font-size="20.3" fill="#4d4d4d" text-anchor="middle">30774</text>
<text x="104.1" y="1555.2" font-size="21.3" fill="#000" text-anchor="start">US2</text>
<text x="104.1" y="1580.7" font-size="21.3" fill="#000"><tspan font-style="italic">Prevotella</tspan> sp.</text>
<text transform="translate(36.1,1753.7) rotate(-90)" font-size="18.8" fill="#000" text-anchor="middle">Depth per base per billion mapped nt</text>
<clipPath id="clipb10"><rect x="103.8" y="1595.6" width="966.5" height="69.1"/></clipPath>
<g clip-path="url(#clipb10)">
<polygon points="581.2,1630.15 581.2,1630.15 581.2,1623.65 583.6,1623.65 583.6,1630.15 583.6,1630.15" fill="#ed1c24" stroke="#8c1216" stroke-width="0.9"/>
<rect x="574.6" y="1629.15" width="1.2" height="1" fill="#c8191f" stroke="#8a1216" stroke-width="0.5"/>
<rect x="596.8" y="1629.45" width="1.2" height="0.7" fill="#c8191f" stroke="#8a1216" stroke-width="0.5"/>
<rect x="614.2" y="1629.15" width="1.2" height="1" fill="#c8191f" stroke="#8a1216" stroke-width="0.5"/>
<rect x="552.4" y="1629.55" width="1.2" height="0.6" fill="#c8191f" stroke="#8a1216" stroke-width="0.5"/>
<rect x="639.4" y="1629.65" width="1.2" height="0.5" fill="#c8191f" stroke="#8a1216" stroke-width="0.5"/>
<rect x="689.4" y="1629.75" width="1.2" height="0.4" fill="#c8191f" stroke="#8a1216" stroke-width="0.5"/>
<polygon points="885.8,1630.15 885.8,1630.15 886.3,1633.35 888.3,1633.35 888.8,1630.15 888.8,1630.15" fill="#ed1c24" stroke="#8c1216" stroke-width="0.9"/>
</g>
<line x1="98.3" y1="1630.15" x2="1070.3" y2="1630.15" stroke="#333" stroke-width="1.4"/>
<rect x="103.8" y="1595.6" width="966.5" height="69.1" fill="none" stroke="#939393" stroke-width="1.3"/>
<text x="162.9" y="1613.4" font-size="19" fill="#000" text-anchor="start">PROseq 3'</text>
<line x1="98.3" y1="1609.75" x2="103.8" y2="1609.75" stroke="#555" stroke-width="1.2"/>
<text x="93.4" y="1616.35" font-size="18.5" fill="#111" text-anchor="end">1000</text>
<text x="93.4" y="1636.75" font-size="18.5" fill="#111" text-anchor="end">0</text>
<line x1="98.3" y1="1650.55" x2="103.8" y2="1650.55" stroke="#555" stroke-width="1.2"/>
<text x="93.4" y="1657.15" font-size="18.5" fill="#111" text-anchor="end">-1000</text>
<clipPath id="clipb11"><rect x="103.8" y="1675.6" width="966.5" height="69.1"/></clipPath>
<g clip-path="url(#clipb11)">
<rect x="574.85" y="1696.85" width="1.5" height="13.3" fill="#c8191f" stroke="#8a1216" stroke-width="0.5"/>
<rect x="588.95" y="1705.35" width="1.5" height="4.8" fill="#c8191f" stroke="#8a1216" stroke-width="0.5"/>
<rect x="554.5" y="1707.75" width="1.2" height="2.4" fill="#c8191f" stroke="#8a1216" stroke-width="0.5"/>
<rect x="564.2" y="1708.95" width="1.2" height="1.2" fill="#c8191f" stroke="#8a1216" stroke-width="0.5"/>
<rect x="578.7" y="1709.15" width="1.2" height="1" fill="#c8191f" stroke="#8a1216" stroke-width="0.5"/>
<rect x="582.4" y="1709.15" width="1.2" height="1" fill="#c8191f" stroke="#8a1216" stroke-width="0.5"/>
<rect x="602.9" y="1708.75" width="1.2" height="1.4" fill="#c8191f" stroke="#8a1216" stroke-width="0.5"/>
<rect x="607.7" y="1708.95" width="1.2" height="1.2" fill="#c8191f" stroke="#8a1216" stroke-width="0.5"/>
<rect x="659.4" y="1709.35" width="1.2" height="0.8" fill="#c8191f" stroke="#8a1216" stroke-width="0.5"/>
<rect x="664.4" y="1709.35" width="1.2" height="0.8" fill="#c8191f" stroke="#8a1216" stroke-width="0.5"/>
<rect x="670.4" y="1709.35" width="1.2" height="0.8" fill="#c8191f" stroke="#8a1216" stroke-width="0.5"/>
<rect x="713.4" y="1709.55" width="1.2" height="0.6" fill="#c8191f" stroke="#8a1216" stroke-width="0.5"/>
<rect x="724.4" y="1709.55" width="1.2" height="0.6" fill="#c8191f" stroke="#8a1216" stroke-width="0.5"/>
<rect x="734.4" y="1709.55" width="1.2" height="0.6" fill="#c8191f" stroke="#8a1216" stroke-width="0.5"/>
<rect x="893.9" y="1710.15" width="1.2" height="2.2" fill="#c8191f" stroke="#8a1216" stroke-width="0.5"/>
<rect x="901.2" y="1710.15" width="1.2" height="1" fill="#c8191f" stroke="#8a1216" stroke-width="0.5"/>
<rect x="922.2" y="1710.15" width="1.2" height="0.8" fill="#c8191f" stroke="#8a1216" stroke-width="0.5"/>
<rect x="1019.6" y="1710.15" width="1.2" height="3" fill="#c8191f" stroke="#8a1216" stroke-width="0.5"/>
</g>
<line x1="98.3" y1="1710.15" x2="1070.3" y2="1710.15" stroke="#333" stroke-width="1.4"/>
<rect x="103.8" y="1675.6" width="966.5" height="69.1" fill="none" stroke="#939393" stroke-width="1.3"/>
<text x="162.9" y="1693.4" font-size="19" fill="#000" text-anchor="start">PROseq 5'</text>
<line x1="98.3" y1="1689.75" x2="103.8" y2="1689.75" stroke="#555" stroke-width="1.2"/>
<text x="93.4" y="1696.35" font-size="18.5" fill="#111" text-anchor="end">1000</text>
<text x="93.4" y="1716.75" font-size="18.5" fill="#111" text-anchor="end">0</text>
<line x1="98.3" y1="1730.55" x2="103.8" y2="1730.55" stroke="#555" stroke-width="1.2"/>
<text x="93.4" y="1737.15" font-size="18.5" fill="#111" text-anchor="end">-1000</text>
<clipPath id="clipb12"><rect x="103.8" y="1755.5" width="966.5" height="69.1"/></clipPath>
<g clip-path="url(#clipb12)">
<polygon points="544.2,1790.05 544.2,1790.05 553.9,1789.05 556.3,1788.05 563.5,1785.65 568.4,1786.45 574.4,1786.95 575.2,1776.05 578,1774.35 581.7,1774.85 583.4,1784.45 586.5,1785.65 590.2,1784.45 597.4,1785.25 602.3,1787.35 605.9,1786.95 610.7,1784.45 614.4,1784.05 619.2,1787.35 622.8,1790.05 622.8,1790.05" fill="#ed1c24" stroke="#8c1216" stroke-width="0.9"/>
<polygon points="639.8,1790.05 639.8,1790.05 645.8,1789.05 665.2,1788.55 668,1786.95 672.4,1786.95 679.7,1788.55 713.6,1788.05 728,1787.35 740.2,1789.05 742.6,1790.05 742.6,1790.05" fill="#ed1c24" stroke="#8c1216" stroke-width="0.9"/>
<polygon points="827.3,1790.05 827.3,1790.05 829,1791.05 833,1791.05 834.5,1790.05 834.5,1790.05" fill="#ed1c24" stroke="#8c1216" stroke-width="0.9"/>
<polygon points="1004,1790.05 1004,1790.05 1006,1791.05 1010,1791.05 1012,1790.05 1012,1790.05" fill="#ed1c24" stroke="#8c1216" stroke-width="0.9"/>
</g>
<line x1="98.3" y1="1790.05" x2="1070.3" y2="1790.05" stroke="#333" stroke-width="1.4"/>
<rect x="103.8" y="1755.5" width="966.5" height="69.1" fill="none" stroke="#939393" stroke-width="1.3"/>
<text x="162.9" y="1773.3" font-size="19" fill="#000" text-anchor="start">PROSeq full</text>
<line x1="98.3" y1="1769.65" x2="103.8" y2="1769.65" stroke="#555" stroke-width="1.2"/>
<text x="93.4" y="1776.25" font-size="18.5" fill="#111" text-anchor="end">1000</text>
<text x="93.4" y="1796.65" font-size="18.5" fill="#111" text-anchor="end">0</text>
<line x1="98.3" y1="1810.45" x2="103.8" y2="1810.45" stroke="#555" stroke-width="1.2"/>
<text x="93.4" y="1817.05" font-size="18.5" fill="#111" text-anchor="end">-1000</text>
<clipPath id="clipb13"><rect x="103.8" y="1835.2" width="966.5" height="69.1"/></clipPath>
<g clip-path="url(#clipb13)">
<polygon points="500,1869.75 500,1869.75 520,1869.25 543,1869.15 544.2,1868.55 551.5,1864.15 558.7,1862.25 568.4,1854.55 575.6,1852.05 581.7,1849.65 586.5,1851.65 591.4,1848.45 597.4,1841.15 602.3,1842.45 607.1,1844.85 613.2,1846.05 616.8,1856.95 619.7,1869.05 621.6,1869.05 655.5,1868.55 687,1865.35 703.9,1865.65 716,1866.65 720.8,1862.95 752.3,1863.75 759.5,1867.85 764.4,1866.65 798.2,1868.05 810.3,1869.05 832.1,1869.75 832.1,1869.75" fill="#ed1c24" stroke="#8c1216" stroke-width="0.9"/>
<polygon points="834.5,1869.75 834.5,1869.75 839.4,1873.85 843,1878.65 847.8,1881.15 853.9,1888.35 863.6,1893.25 878.1,1895.15 889,1899.95 897.4,1896.85 909.5,1892.05 913.2,1882.35 916.8,1869.75 916.8,1869.75" fill="#ed1c24" stroke="#8c1216" stroke-width="0.9"/>
</g>
<line x1="98.3" y1="1869.75" x2="1070.3" y2="1869.75" stroke="#333" stroke-width="1.4"/>
<rect x="103.8" y="1835.2" width="966.5" height="69.1" fill="none" stroke="#939393" stroke-width="1.3"/>
<text x="162.9" y="1853" font-size="19" fill="#000" text-anchor="start">RNAseq</text>
<line x1="98.3" y1="1849.35" x2="103.8" y2="1849.35" stroke="#555" stroke-width="1.2"/>
<text x="93.4" y="1855.95" font-size="18.5" fill="#111" text-anchor="end">1000</text>
<text x="93.4" y="1876.35" font-size="18.5" fill="#111" text-anchor="end">0</text>
<line x1="98.3" y1="1890.15" x2="103.8" y2="1890.15" stroke="#555" stroke-width="1.2"/>
<text x="93.4" y="1896.75" font-size="18.5" fill="#111" text-anchor="end">-1000</text>
<line x1="147.7" y1="1904.3" x2="147.7" y2="1909.3" stroke="#888" stroke-width="1.1"/>
<text x="147.7" y="1927.7" font-size="18.7" fill="#111" text-anchor="middle">37.00</text>
<line x1="294.18" y1="1904.3" x2="294.18" y2="1909.3" stroke="#888" stroke-width="1.1"/>
<text x="294.18" y="1927.7" font-size="18.7" fill="#111" text-anchor="middle">37.50</text>
<line x1="440.66" y1="1904.3" x2="440.66" y2="1909.3" stroke="#888" stroke-width="1.1"/>
<text x="440.66" y="1927.7" font-size="18.7" fill="#111" text-anchor="middle">38.00</text>
<line x1="587.14" y1="1904.3" x2="587.14" y2="1909.3" stroke="#888" stroke-width="1.1"/>
<text x="587.14" y="1927.7" font-size="18.7" fill="#111" text-anchor="middle">38.50</text>
<line x1="733.62" y1="1904.3" x2="733.62" y2="1909.3" stroke="#888" stroke-width="1.1"/>
<text x="733.62" y="1927.7" font-size="18.7" fill="#111" text-anchor="middle">39.00</text>
<line x1="880.1" y1="1904.3" x2="880.1" y2="1909.3" stroke="#888" stroke-width="1.1"/>
<text x="880.1" y="1927.7" font-size="18.7" fill="#111" text-anchor="middle">39.50</text>
<line x1="1026.58" y1="1904.3" x2="1026.58" y2="1909.3" stroke="#888" stroke-width="1.1"/>
<text x="1026.58" y="1927.7" font-size="18.7" fill="#111" text-anchor="middle">40.00</text>
<text x="587.05" y="1950.3" font-size="18.8" fill="#111" text-anchor="middle">Position on contig (kbp)</text>
<line x1="103.5" y1="2053.3" x2="1070.6" y2="2053.3" stroke="#c6c6c6" stroke-width="3.2"/>
<polygon points="316.2,2045.1 230.9,2045.1 230.9,2042.1 209.1,2053.3 230.9,2064.5 230.9,2061.5 316.2,2061.5" fill="#8fd3c5" stroke="#2a4744" stroke-width="1.4"/>
<polygon points="372.1,2045.1 488.6,2045.1 488.6,2042.1 510.4,2053.3 488.6,2064.5 488.6,2061.5 372.1,2061.5" fill="#8fd3c5" stroke="#2a4744" stroke-width="1.4"/>
<polygon points="535.6,2045.1 581.6,2045.1 581.6,2042.1 603.4,2053.3 581.6,2064.5 581.6,2061.5 535.6,2061.5" fill="#8fd3c5" stroke="#2a4744" stroke-width="1.4"/>
<polygon points="631.8,2045.1 727.5,2045.1 727.5,2042.1 749.3,2053.3 727.5,2064.5 727.5,2061.5 631.8,2061.5" fill="#8fd3c5" stroke="#2a4744" stroke-width="1.4"/>
<polygon points="941.4,2045.1 871.8,2045.1 871.8,2042.1 850,2053.3 871.8,2064.5 871.8,2061.5 941.4,2061.5" fill="#fff3aa" stroke="#4a4630" stroke-width="1.4"/>
<text x="897.5" y="1993.1" font-size="16" fill="#111" text-anchor="middle">HTH cro/C1-type</text>
<text x="897.5" y="2015.9" font-size="16" fill="#111" text-anchor="middle">domain-containing</text>
<text x="897.5" y="2038.7" font-size="16" fill="#111" text-anchor="middle">protein</text>
<text x="1193.8" y="1555.2" font-size="21.3" fill="#000" text-anchor="start">US2</text>
<text x="1193.8" y="1580.7" font-size="21.3" fill="#000"><tspan font-style="italic">Bifidobacterium adolescentis</tspan></text>
<text transform="translate(1126.6,1751) rotate(-90)" font-size="18.8" fill="#000" text-anchor="middle">Depth per base per billion mapped nt</text>
<text transform="translate(1126.6,2068) rotate(-90)" font-size="18.8" fill="#000" text-anchor="middle">Depth per base per billion mapped nt</text>
<clipPath id="clipb20"><rect x="1193.5" y="1595.6" width="966.4" height="69.1"/></clipPath>
<g clip-path="url(#clipb20)">
<rect x="1683.05" y="1626.15" width="1.3" height="4" fill="#c8191f" stroke="#8a1216" stroke-width="0.5"/>
<rect x="1684.25" y="1627.15" width="1.3" height="3" fill="#c8191f" stroke="#8a1216" stroke-width="0.5"/>
<rect x="1687.85" y="1629.15" width="1.3" height="1" fill="#c8191f" stroke="#8a1216" stroke-width="0.5"/>
<rect x="1694.55" y="1626.15" width="1.3" height="4" fill="#c8191f" stroke="#8a1216" stroke-width="0.5"/>
<rect x="1725.25" y="1629.15" width="1.3" height="1" fill="#c8191f" stroke="#8a1216" stroke-width="0.5"/>
<rect x="1789.35" y="1625.65" width="1.3" height="4.5" fill="#c8191f" stroke="#8a1216" stroke-width="0.5"/>
<rect x="1943.95" y="1629.15" width="1.3" height="1" fill="#c8191f" stroke="#8a1216" stroke-width="0.5"/>
</g>
<line x1="1188" y1="1630.15" x2="2159.9" y2="1630.15" stroke="#333" stroke-width="1.4"/>
<rect x="1193.5" y="1595.6" width="966.4" height="69.1" fill="none" stroke="#939393" stroke-width="1.3"/>
<text x="1252.3" y="1613.4" font-size="19" fill="#000" text-anchor="start">PROseq 3'</text>
<line x1="1188" y1="1603.95" x2="1193.5" y2="1603.95" stroke="#555" stroke-width="1.2"/>
<text x="1183.1" y="1610.55" font-size="18.5" fill="#111" text-anchor="end">2000</text>
<line x1="1188" y1="1617.05" x2="1193.5" y2="1617.05" stroke="#555" stroke-width="1.2"/>
<text x="1183.1" y="1623.65" font-size="18.5" fill="#111" text-anchor="end">1000</text>
<text x="1183.1" y="1636.75" font-size="18.5" fill="#111" text-anchor="end">0</text>
<line x1="1188" y1="1643.25" x2="1193.5" y2="1643.25" stroke="#555" stroke-width="1.2"/>
<text x="1183.1" y="1649.85" font-size="18.5" fill="#111" text-anchor="end">-1000</text>
<line x1="1188" y1="1656.35" x2="1193.5" y2="1656.35" stroke="#555" stroke-width="1.2"/>
<text x="1183.1" y="1662.95" font-size="18.5" fill="#111" text-anchor="end">-2000</text>
<clipPath id="clipb21"><rect x="1193.5" y="1675.6" width="966.4" height="69.1"/></clipPath>
<g clip-path="url(#clipb21)">
<rect x="1673.05" y="1680.15" width="1.5" height="30" fill="#c8191f" stroke="#8a1216" stroke-width="0.5"/>
<rect x="1778.45" y="1706.45" width="1.3" height="3.7" fill="#c8191f" stroke="#8a1216" stroke-width="0.5"/>
<rect x="1758.95" y="1708.95" width="1.3" height="1.2" fill="#c8191f" stroke="#8a1216" stroke-width="0.5"/>
<rect x="1717.75" y="1709.15" width="1.3" height="1" fill="#c8191f" stroke="#8a1216" stroke-width="0.5"/>
<rect x="1696.05" y="1709.55" width="1.3" height="0.6" fill="#c8191f" stroke="#8a1216" stroke-width="0.5"/>
<rect x="1707.35" y="1709.55" width="1.3" height="0.6" fill="#c8191f" stroke="#8a1216" stroke-width="0.5"/>
<rect x="1932.45" y="1708.65" width="1.3" height="1.5" fill="#c8191f" stroke="#8a1216" stroke-width="0.5"/>
<rect x="2077.05" y="1709.65" width="1.3" height="0.5" fill="#c8191f" stroke="#8a1216" stroke-width="0.5"/>
</g>
<line x1="1188" y1="1710.15" x2="2159.9" y2="1710.15" stroke="#333" stroke-width="1.4"/>
<rect x="1193.5" y="1675.6" width="966.4" height="69.1" fill="none" stroke="#939393" stroke-width="1.3"/>
<text x="1252.3" y="1693.4" font-size="19" fill="#000" text-anchor="start">PROseq 5'</text>
<line x1="1188" y1="1683.95" x2="1193.5" y2="1683.95" stroke="#555" stroke-width="1.2"/>
<text x="1183.1" y="1690.55" font-size="18.5" fill="#111" text-anchor="end">2000</text>
<line x1="1188" y1="1697.05" x2="1193.5" y2="1697.05" stroke="#555" stroke-width="1.2"/>
<text x="1183.1" y="1703.65" font-size="18.5" fill="#111" text-anchor="end">1000</text>
<text x="1183.1" y="1716.75" font-size="18.5" fill="#111" text-anchor="end">0</text>
<line x1="1188" y1="1723.25" x2="1193.5" y2="1723.25" stroke="#555" stroke-width="1.2"/>
<text x="1183.1" y="1729.85" font-size="18.5" fill="#111" text-anchor="end">-1000</text>
<line x1="1188" y1="1736.35" x2="1193.5" y2="1736.35" stroke="#555" stroke-width="1.2"/>
<text x="1183.1" y="1742.95" font-size="18.5" fill="#111" text-anchor="end">-2000</text>
<clipPath id="clipb22"><rect x="1193.5" y="1755.5" width="966.4" height="69.1"/></clipPath>
<g clip-path="url(#clipb22)">
<polygon points="1673.2,1790.05 1673.2,1790.05 1673.2,1765.65 1676.5,1764.85 1682.5,1763.35 1684.7,1770.15 1690,1776.15 1696,1778.35 1704.9,1779.85 1712.4,1781.35 1719.9,1780.95 1724.4,1782.15 1727.4,1785.85 1731.1,1788.85 1757.3,1788.85 1759.6,1785.15 1764.8,1783.65 1778.3,1784.35 1779.8,1782.45 1787.3,1783.65 1790.3,1786.65 1799.3,1788.15 1808.3,1789.35 1824.7,1788.45 1836.7,1788.45 1839.7,1789.65 1866.7,1788.85 1899.6,1788.85 1930.5,1788.85 1933,1786.45 1945,1786.45 1947,1789.05 2077,1789.05 2079,1787.45 2114,1787.45 2115.4,1790.05 2115.4,1790.05" fill="#ed1c24" stroke="#8c1216" stroke-width="0.9"/>
</g>
<line x1="1188" y1="1790.05" x2="2159.9" y2="1790.05" stroke="#333" stroke-width="1.4"/>
<rect x="1193.5" y="1755.5" width="966.4" height="69.1" fill="none" stroke="#939393" stroke-width="1.3"/>
<text x="1252.3" y="1773.3" font-size="19" fill="#000" text-anchor="start">PROSeq full</text>
<line x1="1188" y1="1763.85" x2="1193.5" y2="1763.85" stroke="#555" stroke-width="1.2"/>
<text x="1183.1" y="1770.45" font-size="18.5" fill="#111" text-anchor="end">2000</text>
<line x1="1188" y1="1776.95" x2="1193.5" y2="1776.95" stroke="#555" stroke-width="1.2"/>
<text x="1183.1" y="1783.55" font-size="18.5" fill="#111" text-anchor="end">1000</text>
<text x="1183.1" y="1796.65" font-size="18.5" fill="#111" text-anchor="end">0</text>
<line x1="1188" y1="1803.15" x2="1193.5" y2="1803.15" stroke="#555" stroke-width="1.2"/>
<text x="1183.1" y="1809.75" font-size="18.5" fill="#111" text-anchor="end">-1000</text>
<line x1="1188" y1="1816.25" x2="1193.5" y2="1816.25" stroke="#555" stroke-width="1.2"/>
<text x="1183.1" y="1822.85" font-size="18.5" fill="#111" text-anchor="end">-2000</text>
<clipPath id="clipb23"><rect x="1193.5" y="1835.2" width="966.4" height="69.1"/></clipPath>
<g clip-path="url(#clipb23)">
<polygon points="2097,1869.75 2097,1869.75 2099,1869.15 2113,1869.15 2115,1869.75 2115,1869.75" fill="#ed1c24" stroke="#8c1216" stroke-width="0.9"/>
</g>
<line x1="1188" y1="1869.75" x2="2159.9" y2="1869.75" stroke="#333" stroke-width="1.4"/>
<rect x="1193.5" y="1835.2" width="966.4" height="69.1" fill="none" stroke="#939393" stroke-width="1.3"/>
<text x="1252.3" y="1853" font-size="19" fill="#000" text-anchor="start">RNAseq</text>
<line x1="1188" y1="1843.55" x2="1193.5" y2="1843.55" stroke="#555" stroke-width="1.2"/>
<text x="1183.1" y="1850.15" font-size="18.5" fill="#111" text-anchor="end">2000</text>
<line x1="1188" y1="1856.65" x2="1193.5" y2="1856.65" stroke="#555" stroke-width="1.2"/>
<text x="1183.1" y="1863.25" font-size="18.5" fill="#111" text-anchor="end">1000</text>
<text x="1183.1" y="1876.35" font-size="18.5" fill="#111" text-anchor="end">0</text>
<line x1="1188" y1="1882.85" x2="1193.5" y2="1882.85" stroke="#555" stroke-width="1.2"/>
<text x="1183.1" y="1889.45" font-size="18.5" fill="#111" text-anchor="end">-1000</text>
<line x1="1188" y1="1895.95" x2="1193.5" y2="1895.95" stroke="#555" stroke-width="1.2"/>
<text x="1183.1" y="1902.55" font-size="18.5" fill="#111" text-anchor="end">-2000</text>
<line x1="1237.1" y1="1904.3" x2="1237.1" y2="1909.3" stroke="#888" stroke-width="1.1"/>
<text x="1237.1" y="1927.7" font-size="18.7" fill="#111" text-anchor="middle">25.00</text>
<line x1="1383.42" y1="1904.3" x2="1383.42" y2="1909.3" stroke="#888" stroke-width="1.1"/>
<text x="1383.42" y="1927.7" font-size="18.7" fill="#111" text-anchor="middle">25.33</text>
<line x1="1529.74" y1="1904.3" x2="1529.74" y2="1909.3" stroke="#888" stroke-width="1.1"/>
<text x="1529.74" y="1927.7" font-size="18.7" fill="#111" text-anchor="middle">25.67</text>
<line x1="1676.06" y1="1904.3" x2="1676.06" y2="1909.3" stroke="#888" stroke-width="1.1"/>
<text x="1676.06" y="1927.7" font-size="18.7" fill="#111" text-anchor="middle">26.00</text>
<line x1="1822.38" y1="1904.3" x2="1822.38" y2="1909.3" stroke="#888" stroke-width="1.1"/>
<text x="1822.38" y="1927.7" font-size="18.7" fill="#111" text-anchor="middle">26.33</text>
<line x1="1968.7" y1="1904.3" x2="1968.7" y2="1909.3" stroke="#888" stroke-width="1.1"/>
<text x="1968.7" y="1927.7" font-size="18.7" fill="#111" text-anchor="middle">26.66</text>
<line x1="2115.02" y1="1904.3" x2="2115.02" y2="1909.3" stroke="#888" stroke-width="1.1"/>
<text x="2115.02" y="1927.7" font-size="18.7" fill="#111" text-anchor="middle">27.00</text>
<text x="1676.7" y="1950.3" font-size="18.8" fill="#111" text-anchor="middle">Position on contig (kbp)</text>
<line x1="1193" y1="2053" x2="2159.9" y2="2053" stroke="#c6c6c6" stroke-width="3.2"/>
<polygon points="1506.6,2044.8 1395.3,2044.8 1395.3,2041.8 1373.5,2053 1395.3,2064.2 1395.3,2061.2 1506.6,2061.2" fill="#8fd3c5" stroke="#2a4744" stroke-width="1.4"/>
<polygon points="1618,2044.8 1541.1,2044.8 1541.1,2041.8 1519.3,2053 1541.1,2064.2 1541.1,2061.2 1618,2061.2" fill="#f47b6b" stroke="#5a2a25" stroke-width="1.4"/>
<polygon points="1673.2,2044.8 1829.9,2044.8 1829.9,2041.8 1851.7,2053 1829.9,2064.2 1829.9,2061.2 1673.2,2061.2" fill="#fff3aa" stroke="#4a4630" stroke-width="1.4"/>
<polygon points="1880.1,2044.8 2039.1,2044.8 2039.1,2041.8 2060.9,2053 2039.1,2064.2 2039.1,2061.2 1880.1,2061.2" fill="#c6bde2" stroke="#3a3550" stroke-width="1.4"/>
<text x="1578.3" y="1991.1" font-size="16" fill="#111" text-anchor="middle">XRE family</text>
<text x="1578.3" y="2014.1" font-size="16" fill="#111" text-anchor="middle">transcriptional</text>
<text x="1578.3" y="2037.1" font-size="16" fill="#111" text-anchor="middle">regulator</text>
<text x="1748.4" y="2020" font-size="16" fill="#111" text-anchor="middle">CI-like</text>
<text x="1748.4" y="2039.6" font-size="16" fill="#111" text-anchor="middle">DNA-binding protein</text>
<text x="1970.2" y="1992.8" font-size="16" fill="#111" text-anchor="middle">Peptidase-M78</text>
<text x="1970.2" y="2016" font-size="16" fill="#111" text-anchor="middle">domain-containing</text>
<text x="1970.2" y="2039.2" font-size="16" fill="#111" text-anchor="middle">protein</text>
<text x="93.8" y="2110.6" font-size="21.3" fill="#000" text-anchor="start">US3</text>
<text x="93.8" y="2136.5" font-size="21.3" fill="#000"><tspan font-style="italic">Alistipes putredinis</tspan></text>
<text transform="translate(36.1,2313) rotate(-90)" font-size="18.8" fill="#000" text-anchor="middle">Depth per base per billion mapped nt</text>
<clipPath id="clipb30"><rect x="93.5" y="2148.7" width="976.8" height="69.4"/></clipPath>
<g clip-path="url(#clipb30)">
<polygon points="364.5,2183.4 364.5,2183.4 368,2185 387,2185 390.3,2183.4 390.3,2183.4" fill="#ed1c24" stroke="#8c1216" stroke-width="0.9"/>
<polygon points="500,2183.4 500,2183.4 505,2182.9 576,2183 578,2183.4 578,2183.4" fill="#ed1c24" stroke="#8c1216" stroke-width="0.9"/>
<polygon points="576,2183.4 576,2183.4 580,2184.4 600,2184.4 603.7,2183.4 603.7,2183.4" fill="#ed1c24" stroke="#8c1216" stroke-width="0.9"/>
<polygon points="735,2183.4 735,2183.4 742,2180.6 748.9,2178.9 776.5,2179.9 792.1,2181.4 804.2,2182.4 825,2182.4 863,2182 887,2183.4 887,2183.4" fill="#ed1c24" stroke="#8c1216" stroke-width="0.9"/>
<polygon points="949.4,2183.4 949.4,2183.4 961.4,2182 978.7,2182 980.4,2179.4 1004.6,2179.9 1025.4,2180.6 1025.8,2183.4 1025.8,2183.4" fill="#ed1c24" stroke="#8c1216" stroke-width="0.9"/>
</g>
<line x1="88" y1="2183.4" x2="1070.3" y2="2183.4" stroke="#333" stroke-width="1.4"/>
<rect x="93.5" y="2148.7" width="976.8" height="69.4" fill="none" stroke="#939393" stroke-width="1.3"/>
<text x="152.3" y="2166.5" font-size="19" fill="#000" text-anchor="start">RNAseq</text>
<line x1="88" y1="2157.6" x2="93.5" y2="2157.6" stroke="#555" stroke-width="1.2"/>
<text x="83.1" y="2164.2" font-size="18.5" fill="#111" text-anchor="end">100</text>
<line x1="88" y1="2170.5" x2="93.5" y2="2170.5" stroke="#555" stroke-width="1.2"/>
<text x="83.1" y="2177.1" font-size="18.5" fill="#111" text-anchor="end">50</text>
<text x="83.1" y="2190" font-size="18.5" fill="#111" text-anchor="end">0</text>
<line x1="88" y1="2196.3" x2="93.5" y2="2196.3" stroke="#555" stroke-width="1.2"/>
<text x="83.1" y="2202.9" font-size="18.5" fill="#111" text-anchor="end">-50</text>
<line x1="88" y1="2209.2" x2="93.5" y2="2209.2" stroke="#555" stroke-width="1.2"/>
<text x="83.1" y="2215.8" font-size="18.5" fill="#111" text-anchor="end">-100</text>
<clipPath id="clipb31"><rect x="93.5" y="2230.6" width="976.8" height="69.4"/></clipPath>
<g clip-path="url(#clipb31)">
<polygon points="309.7,2265.3 309.7,2265.3 311,2268.2 324,2268.2 325.8,2265.3 325.8,2265.3" fill="#ed1c24" stroke="#8c1216" stroke-width="0.9"/>
<polygon points="403,2265.3 403,2265.3 404,2263.7 410,2263.7 411,2265.3 411,2265.3" fill="#ed1c24" stroke="#8c1216" stroke-width="0.9"/>
<polygon points="419,2265.3 419,2265.3 420,2266.9 428,2266.9 429,2265.3 429,2265.3" fill="#ed1c24" stroke="#8c1216" stroke-width="0.9"/>
<polygon points="593.3,2265.3 593.3,2265.3 594.3,2263.6 602.7,2263.6 603.7,2265.3 603.7,2265.3" fill="#ed1c24" stroke="#8c1216" stroke-width="0.9"/>
<polygon points="645.2,2265.3 645.2,2265.3 646.2,2263.6 654.5,2263.6 655.5,2265.3 655.5,2265.3" fill="#ed1c24" stroke="#8c1216" stroke-width="0.9"/>
<polygon points="695.3,2265.3 695.3,2265.3 696.3,2263.6 702.9,2263.6 703.9,2265.3 703.9,2265.3" fill="#ed1c24" stroke="#8c1216" stroke-width="0.9"/>
<polygon points="728,2265.3 728,2261.2 742,2261.2 742,2265.3" fill="#ed1c24" stroke="#8c1216" stroke-width="0.6"/>
<polygon points="744.7,2265.3 744.7,2259.4 755.8,2259.4 755.8,2265.3" fill="#ed1c24" stroke="#8c1216" stroke-width="0.6"/>
<polygon points="793.8,2265.3 793.8,2262.4 796,2262.4 796,2260.8 800.7,2260.8 800.7,2258 807.6,2258 807.6,2256.3 811.1,2256.3 811.1,2252.9 813.7,2252.9 813.7,2247.7 815.4,2247.7 815.4,2239.3 821.5,2239.3 821.5,2241.3 822.3,2241.3 822.3,2264.1 826.7,2264.1 826.7,2262.4 829,2262.4 829,2258 834,2258 834,2258.9 837,2258.9 837,2261.5 840.5,2261.5 840.5,2262.4 845.7,2262.4 845.7,2265.3" fill="#ed1c24" stroke="#8c1216" stroke-width="0.6"/>
<polygon points="852.6,2265.3 852.6,2264.1 863,2264.1 863,2265.3" fill="#ed1c24" stroke="#8c1216" stroke-width="0.6"/>
<polygon points="863,2265.3 863,2267.5 868,2267.5 868,2265.3" fill="#ed1c24" stroke="#8c1216" stroke-width="0.6"/>
<polygon points="868,2265.3 868,2264.1 880.2,2264.1 880.2,2265.3" fill="#ed1c24" stroke="#8c1216" stroke-width="0.6"/>
<polygon points="885.4,2265.3 885.4,2262 897.5,2262 897.5,2265.3" fill="#ed1c24" stroke="#8c1216" stroke-width="0.6"/>
<polygon points="903.6,2265.3 903.6,2262.4 908.7,2262.4 908.7,2258.3 912,2258.3 912,2256.3 918.2,2256.3 918.2,2260.6 921.7,2260.6 921.7,2262.8 926.9,2262.8 926.9,2263.6 930.3,2263.6 930.3,2265.3" fill="#ed1c24" stroke="#8c1216" stroke-width="0.6"/>
<polygon points="954.5,2265.3 954.5,2263.8 963.2,2263.8 963.2,2265.3" fill="#ed1c24" stroke="#8c1216" stroke-width="0.6"/>
<polygon points="968.4,2265.3 968.4,2263.8 976.1,2263.8 976.1,2265.3" fill="#ed1c24" stroke="#8c1216" stroke-width="0.6"/>
<polygon points="1000.3,2265.3 1000.3,2263.8 1007.2,2263.8 1007.2,2265.3" fill="#ed1c24" stroke="#8c1216" stroke-width="0.6"/>
<polygon points="1011.6,2265.3 1011.6,2263.8 1021,2263.8 1021,2265.3" fill="#ed1c24" stroke="#8c1216" stroke-width="0.6"/>
</g>
<line x1="88" y1="2265.3" x2="1070.3" y2="2265.3" stroke="#333" stroke-width="1.4"/>
<rect x="93.5" y="2230.6" width="976.8" height="69.4" fill="none" stroke="#939393" stroke-width="1.3"/>
<text x="152.3" y="2248.4" font-size="19" fill="#000" text-anchor="start">PROSeq full</text>
<line x1="88" y1="2239.5" x2="93.5" y2="2239.5" stroke="#555" stroke-width="1.2"/>
<text x="83.1" y="2246.1" font-size="18.5" fill="#111" text-anchor="end">100</text>
<line x1="88" y1="2252.4" x2="93.5" y2="2252.4" stroke="#555" stroke-width="1.2"/>
<text x="83.1" y="2259" font-size="18.5" fill="#111" text-anchor="end">50</text>
<text x="83.1" y="2271.9" font-size="18.5" fill="#111" text-anchor="end">0</text>
<line x1="88" y1="2278.2" x2="93.5" y2="2278.2" stroke="#555" stroke-width="1.2"/>
<text x="83.1" y="2284.8" font-size="18.5" fill="#111" text-anchor="end">-50</text>
<line x1="88" y1="2291.1" x2="93.5" y2="2291.1" stroke="#555" stroke-width="1.2"/>
<text x="83.1" y="2297.7" font-size="18.5" fill="#111" text-anchor="end">-100</text>
<clipPath id="clipb32"><rect x="93.5" y="2312.9" width="976.8" height="69.4"/></clipPath>
<g clip-path="url(#clipb32)">
<rect x="821.5" y="2317.2" width="1.4" height="30.4" fill="#c8191f" stroke="#8a1216" stroke-width="0.5"/>
<rect x="836.4" y="2344.6" width="1.2" height="3" fill="#c8191f" stroke="#8a1216" stroke-width="0.5"/>
<rect x="844.4" y="2342.1" width="1.2" height="5.5" fill="#c8191f" stroke="#8a1216" stroke-width="0.5"/>
<rect x="893.4" y="2345.1" width="1.2" height="2.5" fill="#c8191f" stroke="#8a1216" stroke-width="0.5"/>
<rect x="920.4" y="2342.6" width="1.2" height="5" fill="#c8191f" stroke="#8a1216" stroke-width="0.5"/>
<rect x="740.4" y="2344.6" width="1.2" height="3" fill="#c8191f" stroke="#8a1216" stroke-width="0.5"/>
<rect x="753.4" y="2346.1" width="1.2" height="1.5" fill="#c8191f" stroke="#8a1216" stroke-width="0.5"/>
<rect x="150" y="2347.6" width="1.2" height="2" fill="#c8191f" stroke="#8a1216" stroke-width="0.5"/>
<rect x="189.4" y="2347.6" width="1.2" height="1" fill="#c8191f" stroke="#8a1216" stroke-width="0.5"/>
<rect x="255.9" y="2347.6" width="1.2" height="1" fill="#c8191f" stroke="#8a1216" stroke-width="0.5"/>
<rect x="310.4" y="2347.6" width="1.2" height="1" fill="#c8191f" stroke="#8a1216" stroke-width="0.5"/>
<rect x="343.9" y="2347.6" width="1.2" height="2.5" fill="#c8191f" stroke="#8a1216" stroke-width="0.5"/>
<rect x="363.9" y="2347.6" width="1.2" height="1" fill="#c8191f" stroke="#8a1216" stroke-width="0.5"/>
<rect x="410.7" y="2346.6" width="1.2" height="1" fill="#c8191f" stroke="#8a1216" stroke-width="0.5"/>
<rect x="418.8" y="2347.6" width="1.2" height="1" fill="#c8191f" stroke="#8a1216" stroke-width="0.5"/>
<rect x="454.9" y="2347.6" width="1.2" height="1" fill="#c8191f" stroke="#8a1216" stroke-width="0.5"/>
<rect x="599.4" y="2346.6" width="1.2" height="1" fill="#c8191f" stroke="#8a1216" stroke-width="0.5"/>
<rect x="639.4" y="2346.8" width="1.2" height="0.8" fill="#c8191f" stroke="#8a1216" stroke-width="0.5"/>
<rect x="699.4" y="2346.6" width="1.2" height="1" fill="#c8191f" stroke="#8a1216" stroke-width="0.5"/>
<rect x="779.4" y="2346.6" width="1.2" height="1" fill="#c8191f" stroke="#8a1216" stroke-width="0.5"/>
<rect x="799.4" y="2346.6" width="1.2" height="1" fill="#c8191f" stroke="#8a1216" stroke-width="0.5"/>
<rect x="859.4" y="2346.6" width="1.2" height="1" fill="#c8191f" stroke="#8a1216" stroke-width="0.5"/>
<rect x="874.4" y="2346.1" width="1.2" height="1.5" fill="#c8191f" stroke="#8a1216" stroke-width="0.5"/>
<rect x="904.4" y="2346.1" width="1.2" height="1.5" fill="#c8191f" stroke="#8a1216" stroke-width="0.5"/>
<rect x="934.4" y="2346.6" width="1.2" height="1" fill="#c8191f" stroke="#8a1216" stroke-width="0.5"/>
<rect x="959.4" y="2346.6" width="1.2" height="1" fill="#c8191f" stroke="#8a1216" stroke-width="0.5"/>
<rect x="989.4" y="2346.6" width="1.2" height="1" fill="#c8191f" stroke="#8a1216" stroke-width="0.5"/>
<rect x="1004.4" y="2346.6" width="1.2" height="1" fill="#c8191f" stroke="#8a1216" stroke-width="0.5"/>
</g>
<line x1="88" y1="2347.6" x2="1070.3" y2="2347.6" stroke="#333" stroke-width="1.4"/>
<rect x="93.5" y="2312.9" width="976.8" height="69.4" fill="none" stroke="#939393" stroke-width="1.3"/>
<text x="152.3" y="2330.7" font-size="19" fill="#000" text-anchor="start">PROseq 3'</text>
<line x1="88" y1="2321.8" x2="93.5" y2="2321.8" stroke="#555" stroke-width="1.2"/>
<text x="83.1" y="2328.4" font-size="18.5" fill="#111" text-anchor="end">100</text>
<line x1="88" y1="2334.7" x2="93.5" y2="2334.7" stroke="#555" stroke-width="1.2"/>
<text x="83.1" y="2341.3" font-size="18.5" fill="#111" text-anchor="end">50</text>
<text x="83.1" y="2354.2" font-size="18.5" fill="#111" text-anchor="end">0</text>
<line x1="88" y1="2360.5" x2="93.5" y2="2360.5" stroke="#555" stroke-width="1.2"/>
<text x="83.1" y="2367.1" font-size="18.5" fill="#111" text-anchor="end">-50</text>
<line x1="88" y1="2373.4" x2="93.5" y2="2373.4" stroke="#555" stroke-width="1.2"/>
<text x="83.1" y="2380" font-size="18.5" fill="#111" text-anchor="end">-100</text>
<clipPath id="clipb33"><rect x="93.5" y="2392.9" width="976.8" height="69.4"/></clipPath>
<g clip-path="url(#clipb33)">
<rect x="814.5" y="2413.8" width="1.4" height="13.8" fill="#c8191f" stroke="#8a1216" stroke-width="0.5"/>
<rect x="831.8" y="2422.1" width="1.4" height="5.5" fill="#c8191f" stroke="#8a1216" stroke-width="0.5"/>
<rect x="909.9" y="2420" width="1.4" height="7.6" fill="#c8191f" stroke="#8a1216" stroke-width="0.5"/>
<rect x="836.4" y="2424.6" width="1.2" height="3" fill="#c8191f" stroke="#8a1216" stroke-width="0.5"/>
<rect x="885.9" y="2424.6" width="1.2" height="3" fill="#c8191f" stroke="#8a1216" stroke-width="0.5"/>
<rect x="913.4" y="2425.6" width="1.2" height="2" fill="#c8191f" stroke="#8a1216" stroke-width="0.5"/>
<rect x="744.8" y="2426.1" width="1.2" height="1.5" fill="#c8191f" stroke="#8a1216" stroke-width="0.5"/>
<rect x="734.4" y="2426.6" width="1.2" height="1" fill="#c8191f" stroke="#8a1216" stroke-width="0.5"/>
<rect x="739.4" y="2426.6" width="1.2" height="1" fill="#c8191f" stroke="#8a1216" stroke-width="0.5"/>
<rect x="789.4" y="2426.4" width="1.2" height="1.2" fill="#c8191f" stroke="#8a1216" stroke-width="0.5"/>
<rect x="794.4" y="2426.1" width="1.2" height="1.5" fill="#c8191f" stroke="#8a1216" stroke-width="0.5"/>
<rect x="799.4" y="2426.1" width="1.2" height="1.5" fill="#c8191f" stroke="#8a1216" stroke-width="0.5"/>
<rect x="803.6" y="2425.1" width="1.2" height="2.5" fill="#c8191f" stroke="#8a1216" stroke-width="0.5"/>
<rect x="807.4" y="2426.1" width="1.2" height="1.5" fill="#c8191f" stroke="#8a1216" stroke-width="0.5"/>
<rect x="810.4" y="2426.4" width="1.2" height="1.2" fill="#c8191f" stroke="#8a1216" stroke-width="0.5"/>
<rect x="157.4" y="2427.6" width="1.2" height="2.5" fill="#c8191f" stroke="#8a1216" stroke-width="0.5"/>
<rect x="195.4" y="2427.6" width="1.2" height="2.5" fill="#c8191f" stroke="#8a1216" stroke-width="0.5"/>
<rect x="263.9" y="2427.6" width="1.2" height="1" fill="#c8191f" stroke="#8a1216" stroke-width="0.5"/>
<rect x="317.4" y="2427.6" width="1.2" height="1" fill="#c8191f" stroke="#8a1216" stroke-width="0.5"/>
<rect x="326.4" y="2427.6" width="1.2" height="1" fill="#c8191f" stroke="#8a1216" stroke-width="0.5"/>
<rect x="354.4" y="2427.6" width="1.2" height="1" fill="#c8191f" stroke="#8a1216" stroke-width="0.5"/>
<rect x="372" y="2427.6" width="1.2" height="1.5" fill="#c8191f" stroke="#8a1216" stroke-width="0.5"/>
<rect x="404.2" y="2426.1" width="1.2" height="1.5" fill="#c8191f" stroke="#8a1216" stroke-width="0.5"/>
<rect x="427.8" y="2427.6" width="1.2" height="1" fill="#c8191f" stroke="#8a1216" stroke-width="0.5"/>
<rect x="462.9" y="2427.6" width="1.2" height="1" fill="#c8191f" stroke="#8a1216" stroke-width="0.5"/>
<rect x="559.4" y="2427.6" width="1.2" height="1" fill="#c8191f" stroke="#8a1216" stroke-width="0.5"/>
<rect x="619.4" y="2426.6" width="1.2" height="1" fill="#c8191f" stroke="#8a1216" stroke-width="0.5"/>
<rect x="659.4" y="2426.6" width="1.2" height="1" fill="#c8191f" stroke="#8a1216" stroke-width="0.5"/>
<rect x="859.4" y="2427.6" width="1.2" height="1" fill="#c8191f" stroke="#8a1216" stroke-width="0.5"/>
<rect x="924.4" y="2426.6" width="1.2" height="1" fill="#c8191f" stroke="#8a1216" stroke-width="0.5"/>
<rect x="954.4" y="2426.6" width="1.2" height="1" fill="#c8191f" stroke="#8a1216" stroke-width="0.5"/>
<rect x="974.4" y="2426.6" width="1.2" height="1" fill="#c8191f" stroke="#8a1216" stroke-width="0.5"/>
<rect x="1004.4" y="2426.6" width="1.2" height="1" fill="#c8191f" stroke="#8a1216" stroke-width="0.5"/>
</g>
<line x1="88" y1="2427.6" x2="1070.3" y2="2427.6" stroke="#333" stroke-width="1.4"/>
<rect x="93.5" y="2392.9" width="976.8" height="69.4" fill="none" stroke="#939393" stroke-width="1.3"/>
<text x="152.3" y="2410.7" font-size="19" fill="#000" text-anchor="start">PROseq 5'</text>
<line x1="88" y1="2401.8" x2="93.5" y2="2401.8" stroke="#555" stroke-width="1.2"/>
<text x="83.1" y="2408.4" font-size="18.5" fill="#111" text-anchor="end">100</text>
<line x1="88" y1="2414.7" x2="93.5" y2="2414.7" stroke="#555" stroke-width="1.2"/>
<text x="83.1" y="2421.3" font-size="18.5" fill="#111" text-anchor="end">50</text>
<text x="83.1" y="2434.2" font-size="18.5" fill="#111" text-anchor="end">0</text>
<line x1="88" y1="2440.5" x2="93.5" y2="2440.5" stroke="#555" stroke-width="1.2"/>
<text x="83.1" y="2447.1" font-size="18.5" fill="#111" text-anchor="end">-50</text>
<line x1="88" y1="2453.4" x2="93.5" y2="2453.4" stroke="#555" stroke-width="1.2"/>
<text x="83.1" y="2460" font-size="18.5" fill="#111" text-anchor="end">-100</text>
<line x1="137.7" y1="2462.3" x2="137.7" y2="2467.3" stroke="#888" stroke-width="1.1"/>
<text x="137.7" y="2485.7" font-size="18.7" fill="#111" text-anchor="middle">36.00</text>
<line x1="285.77" y1="2462.3" x2="285.77" y2="2467.3" stroke="#888" stroke-width="1.1"/>
<text x="285.77" y="2485.7" font-size="18.7" fill="#111" text-anchor="middle">36.50</text>
<line x1="433.84" y1="2462.3" x2="433.84" y2="2467.3" stroke="#888" stroke-width="1.1"/>
<text x="433.84" y="2485.7" font-size="18.7" fill="#111" text-anchor="middle">37.00</text>
<line x1="581.91" y1="2462.3" x2="581.91" y2="2467.3" stroke="#888" stroke-width="1.1"/>
<text x="581.91" y="2485.7" font-size="18.7" fill="#111" text-anchor="middle">37.50</text>
<line x1="729.98" y1="2462.3" x2="729.98" y2="2467.3" stroke="#888" stroke-width="1.1"/>
<text x="729.98" y="2485.7" font-size="18.7" fill="#111" text-anchor="middle">38.00</text>
<line x1="878.05" y1="2462.3" x2="878.05" y2="2467.3" stroke="#888" stroke-width="1.1"/>
<text x="878.05" y="2485.7" font-size="18.7" fill="#111" text-anchor="middle">38.50</text>
<line x1="1026.12" y1="2462.3" x2="1026.12" y2="2467.3" stroke="#888" stroke-width="1.1"/>
<text x="1026.12" y="2485.7" font-size="18.7" fill="#111" text-anchor="middle">39.00</text>
<text x="581.9" y="2508.3" font-size="18.8" fill="#111" text-anchor="middle">Position on contig (kbp)</text>
<line x1="93.5" y1="2612.8" x2="1070.3" y2="2612.8" stroke="#c6c6c6" stroke-width="3.2"/>
<polygon points="566.4,2604.6 466.3,2604.6 466.3,2601.6 444.5,2612.8 466.3,2624 466.3,2621 566.4,2621" fill="#8fd3c5" stroke="#2a4744" stroke-width="1.4"/>
<polygon points="686.7,2604.6 588.5,2604.6 588.5,2601.6 566.7,2612.8 588.5,2624 588.5,2621 686.7,2621" fill="#8fd3c5" stroke="#2a4744" stroke-width="1.4"/>
<polygon points="721.2,2604.6 900.6,2604.6 900.6,2601.6 922.4,2612.8 900.6,2624 900.6,2621 721.2,2621" fill="#fff3aa" stroke="#4a4630" stroke-width="1.4"/>
<text x="817.4" y="2556.3" font-size="16" fill="#111" text-anchor="middle">CI-like</text>
<text x="817.4" y="2576.2" font-size="16" fill="#111" text-anchor="middle">HTH transcriptional</text>
<text x="817.4" y="2596.1" font-size="16" fill="#111" text-anchor="middle">regulator</text>
<text x="1183.2" y="2110.6" font-size="21.3" fill="#000" text-anchor="start">US3</text>
<text x="1183.2" y="2136.5" font-size="21.3" fill="#000"><tspan font-style="italic">Parabacteroides merdae</tspan></text>
<clipPath id="clipb40"><rect x="1182.9" y="2148.7" width="977" height="69.4"/></clipPath>
<g clip-path="url(#clipb40)">
<polygon points="1225.5,2183.4 1225.5,2183.4 1230,2182.9 1400,2182.9 1425.9,2182.5 1427.6,2180.3 1430.2,2171.6 1432.8,2168.2 1439.7,2165.6 1448.4,2163.4 1457,2161.8 1462.2,2162.7 1476,2163 1486.4,2163 1487.3,2159.6 1493.3,2156.4 1500.2,2155.2 1505.4,2153.5 1510.6,2155.2 1515.8,2159.6 1524.4,2161.8 1534.8,2163.5 1540,2167.3 1548.6,2167.3 1552.1,2160.9 1555.5,2156.4 1562.4,2156.1 1571.1,2157.8 1578,2160.4 1583.2,2163 1591.8,2163.9 1600.4,2167.3 1605.6,2171.6 1610,2177.7 1614.3,2179.9 1633.3,2180.6 1641.9,2181.2 1659.2,2181.7 1666.1,2182.8 1744,2182.9 1746,2183.4 1746,2183.4" fill="#ed1c24" stroke="#8c1216" stroke-width="0.9"/>
</g>
<line x1="1177.4" y1="2183.4" x2="2159.9" y2="2183.4" stroke="#333" stroke-width="1.4"/>
<rect x="1182.9" y="2148.7" width="977" height="69.4" fill="none" stroke="#939393" stroke-width="1.3"/>
<text x="1242.3" y="2166.5" font-size="19" fill="#000" text-anchor="start">RNAseq</text>
<line x1="1177.4" y1="2157.6" x2="1182.9" y2="2157.6" stroke="#555" stroke-width="1.2"/>
<text x="1172.5" y="2164.2" font-size="18.5" fill="#111" text-anchor="end">200</text>
<line x1="1177.4" y1="2170.5" x2="1182.9" y2="2170.5" stroke="#555" stroke-width="1.2"/>
<text x="1172.5" y="2177.1" font-size="18.5" fill="#111" text-anchor="end">100</text>
<text x="1172.5" y="2190" font-size="18.5" fill="#111" text-anchor="end">0</text>
<line x1="1177.4" y1="2196.3" x2="1182.9" y2="2196.3" stroke="#555" stroke-width="1.2"/>
<text x="1172.5" y="2202.9" font-size="18.5" fill="#111" text-anchor="end">-100</text>
<line x1="1177.4" y1="2209.2" x2="1182.9" y2="2209.2" stroke="#555" stroke-width="1.2"/>
<text x="1172.5" y="2215.8" font-size="18.5" fill="#111" text-anchor="end">-200</text>
<clipPath id="clipb41"><rect x="1182.9" y="2230.6" width="977" height="69.4"/></clipPath>
<g clip-path="url(#clipb41)">
<polygon points="1393,2265.3 1393,2263.8 1415.8,2263.8 1415.8,2265.3" fill="#ed1c24" stroke="#8c1216" stroke-width="0.6"/>
<polygon points="1428.7,2265.3 1428.7,2264 1438.4,2264 1438.4,2265.3" fill="#ed1c24" stroke="#8c1216" stroke-width="0.6"/>
<polygon points="1445,2265.3 1445,2265.3 1446.7,2261 1460.5,2260.5 1465,2259.8 1469.1,2258.7 1473,2259.3 1476,2260.1 1478.6,2265.3 1478.6,2265.3" fill="#ed1c24" stroke="#8c1216" stroke-width="0.9"/>
<polygon points="1512.3,2265.3 1512.3,2264.8 1534.8,2264.8 1534.8,2265.3" fill="#ed1c24" stroke="#8c1216" stroke-width="0.6"/>
<polygon points="1534.8,2265.3 1534.8,2265.3 1535.6,2261.8 1545.2,2261 1555.5,2260.6 1558,2261.8 1561.6,2263.9 1566.8,2262.7 1576.3,2261.8 1594.4,2262.7 1595.3,2265.3 1595.3,2265.3" fill="#ed1c24" stroke="#8c1216" stroke-width="0.9"/>
<polygon points="1660.5,2265.3 1660.5,2264.1 1683.4,2264.1 1683.4,2262.7 1696.5,2262.7 1696.5,2264.1 1704.7,2264.1 1704.7,2265.3" fill="#ed1c24" stroke="#8c1216" stroke-width="0.6"/>
<polygon points="1716.2,2265.3 1716.2,2263 1732.5,2263 1732.5,2265.3" fill="#ed1c24" stroke="#8c1216" stroke-width="0.6"/>
<polygon points="1791.4,2265.3 1791.4,2264 1802.9,2264 1802.9,2265.3" fill="#ed1c24" stroke="#8c1216" stroke-width="0.6"/>
<polygon points="1876.5,2265.3 1876.5,2264 1889.6,2264 1889.6,2265.3" fill="#ed1c24" stroke="#8c1216" stroke-width="0.6"/>
<polygon points="1960,2265.3 1960,2264 1978,2264 1978,2265.3" fill="#ed1c24" stroke="#8c1216" stroke-width="0.6"/>
<polygon points="2072.8,2265.3 2072.8,2262 2092.5,2262 2092.5,2265.3" fill="#ed1c24" stroke="#8c1216" stroke-width="0.6"/>
</g>
<line x1="1177.4" y1="2265.3" x2="2159.9" y2="2265.3" stroke="#333" stroke-width="1.4"/>
<rect x="1182.9" y="2230.6" width="977" height="69.4" fill="none" stroke="#939393" stroke-width="1.3"/>
<text x="1242.3" y="2248.4" font-size="19" fill="#000" text-anchor="start">PROSeq full</text>
<line x1="1177.4" y1="2239.5" x2="1182.9" y2="2239.5" stroke="#555" stroke-width="1.2"/>
<text x="1172.5" y="2246.1" font-size="18.5" fill="#111" text-anchor="end">200</text>
<line x1="1177.4" y1="2252.4" x2="1182.9" y2="2252.4" stroke="#555" stroke-width="1.2"/>
<text x="1172.5" y="2259" font-size="18.5" fill="#111" text-anchor="end">100</text>
<text x="1172.5" y="2271.9" font-size="18.5" fill="#111" text-anchor="end">0</text>
<line x1="1177.4" y1="2278.2" x2="1182.9" y2="2278.2" stroke="#555" stroke-width="1.2"/>
<text x="1172.5" y="2284.8" font-size="18.5" fill="#111" text-anchor="end">-100</text>
<line x1="1177.4" y1="2291.1" x2="1182.9" y2="2291.1" stroke="#555" stroke-width="1.2"/>
<text x="1172.5" y="2297.7" font-size="18.5" fill="#111" text-anchor="end">-200</text>
<clipPath id="clipb42"><rect x="1182.9" y="2312.9" width="977" height="69.4"/></clipPath>
<g clip-path="url(#clipb42)">
<polygon points="1475.1,2347.6 1475.1,2344.4 1479.1,2344.4 1479.1,2347.6" fill="#ed1c24" stroke="#8c1216" stroke-width="0.6"/>
<rect x="1593.55" y="2342.8" width="1.3" height="4.8" fill="#c8191f" stroke="#8a1216" stroke-width="0.5"/>
<rect x="1533.85" y="2345.6" width="1.3" height="2" fill="#c8191f" stroke="#8a1216" stroke-width="0.5"/>
<rect x="1413.55" y="2346.1" width="1.3" height="1.5" fill="#c8191f" stroke="#8a1216" stroke-width="0.5"/>
<rect x="1887.95" y="2346.1" width="1.3" height="1.5" fill="#c8191f" stroke="#8a1216" stroke-width="0.5"/>
<rect x="2090.15" y="2345.6" width="1.3" height="2" fill="#c8191f" stroke="#8a1216" stroke-width="0.5"/>
<rect x="1439.35" y="2346.8" width="1.3" height="0.8" fill="#c8191f" stroke="#8a1216" stroke-width="0.5"/>
<rect x="1454.35" y="2346.8" width="1.3" height="0.8" fill="#c8191f" stroke="#8a1216" stroke-width="0.5"/>
<rect x="1499.35" y="2346.8" width="1.3" height="0.8" fill="#c8191f" stroke="#8a1216" stroke-width="0.5"/>
<rect x="1559.35" y="2346.6" width="1.3" height="1" fill="#c8191f" stroke="#8a1216" stroke-width="0.5"/>
<rect x="1574.35" y="2346.6" width="1.3" height="1" fill="#c8191f" stroke="#8a1216" stroke-width="0.5"/>
</g>
<line x1="1177.4" y1="2347.6" x2="2159.9" y2="2347.6" stroke="#333" stroke-width="1.4"/>
<rect x="1182.9" y="2312.9" width="977" height="69.4" fill="none" stroke="#939393" stroke-width="1.3"/>
<text x="1242.3" y="2330.7" font-size="19" fill="#000" text-anchor="start">PROseq 3'</text>
<line x1="1177.4" y1="2321.8" x2="1182.9" y2="2321.8" stroke="#555" stroke-width="1.2"/>
<text x="1172.5" y="2328.4" font-size="18.5" fill="#111" text-anchor="end">200</text>
<line x1="1177.4" y1="2334.7" x2="1182.9" y2="2334.7" stroke="#555" stroke-width="1.2"/>
<text x="1172.5" y="2341.3" font-size="18.5" fill="#111" text-anchor="end">100</text>
<text x="1172.5" y="2354.2" font-size="18.5" fill="#111" text-anchor="end">0</text>
<line x1="1177.4" y1="2360.5" x2="1182.9" y2="2360.5" stroke="#555" stroke-width="1.2"/>
<text x="1172.5" y="2367.1" font-size="18.5" fill="#111" text-anchor="end">-100</text>
<line x1="1177.4" y1="2373.4" x2="1182.9" y2="2373.4" stroke="#555" stroke-width="1.2"/>
<text x="1172.5" y="2380" font-size="18.5" fill="#111" text-anchor="end">-200</text>
<clipPath id="clipb43"><rect x="1182.9" y="2392.9" width="977" height="69.4"/></clipPath>
<g clip-path="url(#clipb43)">
<rect x="1466.1" y="2418.2" width="1.4" height="9.4" fill="#c8191f" stroke="#8a1216" stroke-width="0.5"/>
<rect x="1461.9" y="2423.6" width="1.4" height="4" fill="#c8191f" stroke="#8a1216" stroke-width="0.5"/>
<rect x="1447.3" y="2424.6" width="1.4" height="3" fill="#c8191f" stroke="#8a1216" stroke-width="0.5"/>
<rect x="1534.5" y="2423.4" width="1.4" height="4.2" fill="#c8191f" stroke="#8a1216" stroke-width="0.5"/>
<rect x="1544.8" y="2422.4" width="1.4" height="5.2" fill="#c8191f" stroke="#8a1216" stroke-width="0.5"/>
<rect x="1566.8" y="2425.6" width="1.2" height="2" fill="#c8191f" stroke="#8a1216" stroke-width="0.5"/>
<rect x="1578.1" y="2425.6" width="1.2" height="2" fill="#c8191f" stroke="#8a1216" stroke-width="0.5"/>
<rect x="1415.2" y="2425.6" width="1.2" height="2" fill="#c8191f" stroke="#8a1216" stroke-width="0.5"/>
<rect x="1386.2" y="2426.6" width="1.2" height="1" fill="#c8191f" stroke="#8a1216" stroke-width="0.5"/>
<rect x="1402.3" y="2426.6" width="1.2" height="1" fill="#c8191f" stroke="#8a1216" stroke-width="0.5"/>
<rect x="1424.9" y="2426.6" width="1.2" height="1" fill="#c8191f" stroke="#8a1216" stroke-width="0.5"/>
<rect x="1505.4" y="2426.6" width="1.2" height="1" fill="#c8191f" stroke="#8a1216" stroke-width="0.5"/>
<rect x="1518.4" y="2426.6" width="1.2" height="1" fill="#c8191f" stroke="#8a1216" stroke-width="0.5"/>
<rect x="1554.4" y="2426.6" width="1.2" height="1" fill="#c8191f" stroke="#8a1216" stroke-width="0.5"/>
<rect x="1603.9" y="2426.6" width="1.2" height="1" fill="#c8191f" stroke="#8a1216" stroke-width="0.5"/>
<rect x="1661.6" y="2426.1" width="1.2" height="1.5" fill="#c8191f" stroke="#8a1216" stroke-width="0.5"/>
<rect x="1683.8" y="2426.1" width="1.2" height="1.5" fill="#c8191f" stroke="#8a1216" stroke-width="0.5"/>
<rect x="1716.2" y="2425.4" width="1.2" height="2.2" fill="#c8191f" stroke="#8a1216" stroke-width="0.5"/>
<rect x="1876.6" y="2425.6" width="1.2" height="2" fill="#c8191f" stroke="#8a1216" stroke-width="0.5"/>
<rect x="2077.8" y="2425.6" width="1.2" height="2" fill="#c8191f" stroke="#8a1216" stroke-width="0.5"/>
<rect x="1960" y="2426.6" width="1.2" height="1" fill="#c8191f" stroke="#8a1216" stroke-width="0.5"/>
</g>
<line x1="1177.4" y1="2427.6" x2="2159.9" y2="2427.6" stroke="#333" stroke-width="1.4"/>
<rect x="1182.9" y="2392.9" width="977" height="69.4" fill="none" stroke="#939393" stroke-width="1.3"/>
<text x="1242.3" y="2410.7" font-size="19" fill="#000" text-anchor="start">PROseq 5'</text>
<line x1="1177.4" y1="2401.8" x2="1182.9" y2="2401.8" stroke="#555" stroke-width="1.2"/>
<text x="1172.5" y="2408.4" font-size="18.5" fill="#111" text-anchor="end">200</text>
<line x1="1177.4" y1="2414.7" x2="1182.9" y2="2414.7" stroke="#555" stroke-width="1.2"/>
<text x="1172.5" y="2421.3" font-size="18.5" fill="#111" text-anchor="end">100</text>
<text x="1172.5" y="2434.2" font-size="18.5" fill="#111" text-anchor="end">0</text>
<line x1="1177.4" y1="2440.5" x2="1182.9" y2="2440.5" stroke="#555" stroke-width="1.2"/>
<text x="1172.5" y="2447.1" font-size="18.5" fill="#111" text-anchor="end">-100</text>
<line x1="1177.4" y1="2453.4" x2="1182.9" y2="2453.4" stroke="#555" stroke-width="1.2"/>
<text x="1172.5" y="2460" font-size="18.5" fill="#111" text-anchor="end">-200</text>
<line x1="1227.4" y1="2462.3" x2="1227.4" y2="2467.3" stroke="#888" stroke-width="1.1"/>
<text x="1227.4" y="2485.7" font-size="18.7" fill="#111" text-anchor="middle">36.00</text>
<line x1="1375.33" y1="2462.3" x2="1375.33" y2="2467.3" stroke="#888" stroke-width="1.1"/>
<text x="1375.33" y="2485.7" font-size="18.7" fill="#111" text-anchor="middle">36.33</text>
<line x1="1523.26" y1="2462.3" x2="1523.26" y2="2467.3" stroke="#888" stroke-width="1.1"/>
<text x="1523.26" y="2485.7" font-size="18.7" fill="#111" text-anchor="middle">36.67</text>
<line x1="1671.19" y1="2462.3" x2="1671.19" y2="2467.3" stroke="#888" stroke-width="1.1"/>
<text x="1671.19" y="2485.7" font-size="18.7" fill="#111" text-anchor="middle">37.00</text>
<line x1="1819.12" y1="2462.3" x2="1819.12" y2="2467.3" stroke="#888" stroke-width="1.1"/>
<text x="1819.12" y="2485.7" font-size="18.7" fill="#111" text-anchor="middle">37.33</text>
<line x1="1967.05" y1="2462.3" x2="1967.05" y2="2467.3" stroke="#888" stroke-width="1.1"/>
<text x="1967.05" y="2485.7" font-size="18.7" fill="#111" text-anchor="middle">37.66</text>
<line x1="2114.98" y1="2462.3" x2="2114.98" y2="2467.3" stroke="#888" stroke-width="1.1"/>
<text x="2114.98" y="2485.7" font-size="18.7" fill="#111" text-anchor="middle">38.00</text>
<text x="1671.4" y="2508.3" font-size="18.8" fill="#111" text-anchor="middle">Position on contig (kbp)</text>
<line x1="1182.9" y1="2612.7" x2="2159.9" y2="2612.7" stroke="#c6c6c6" stroke-width="3.2"/>
<polygon points="1397.1,2604.5 1486.9,2604.5 1486.9,2601.5 1508.7,2612.7 1486.9,2623.9 1486.9,2620.9 1397.1,2620.9" fill="#efb4d6" stroke="#4e3040" stroke-width="1.4"/>
<polygon points="1509.4,2604.5 1608.5,2604.5 1608.5,2601.5 1630.3,2612.7 1608.5,2623.9 1608.5,2620.9 1509.4,2620.9" fill="#efb4d6" stroke="#4e3040" stroke-width="1.4"/>
<polygon points="1855.2,2604.5 1760.2,2604.5 1760.2,2601.5 1738.4,2612.7 1760.2,2623.9 1760.2,2620.9 1855.2,2620.9" fill="#8fd3c5" stroke="#2a4744" stroke-width="1.4"/>
<polygon points="2055.8,2604.5 1883.6,2604.5 1883.6,2601.5 1861.8,2612.7 1883.6,2623.9 1883.6,2620.9 2055.8,2620.9" fill="#8fd3c5" stroke="#2a4744" stroke-width="1.4"/>
<text x="1441" y="2568.7" font-size="16" fill="#111" text-anchor="middle">toxin-antitoxin</text>
<text x="1441" y="2592.3" font-size="16" fill="#111" text-anchor="middle">system protein</text>
<text x="1574.8" y="2572" font-size="16" fill="#111" text-anchor="middle">type II toxin</text>
<text x="1574.8" y="2595.2" font-size="16" fill="#111" text-anchor="middle">protein</text>
</svg>
</body></html>
